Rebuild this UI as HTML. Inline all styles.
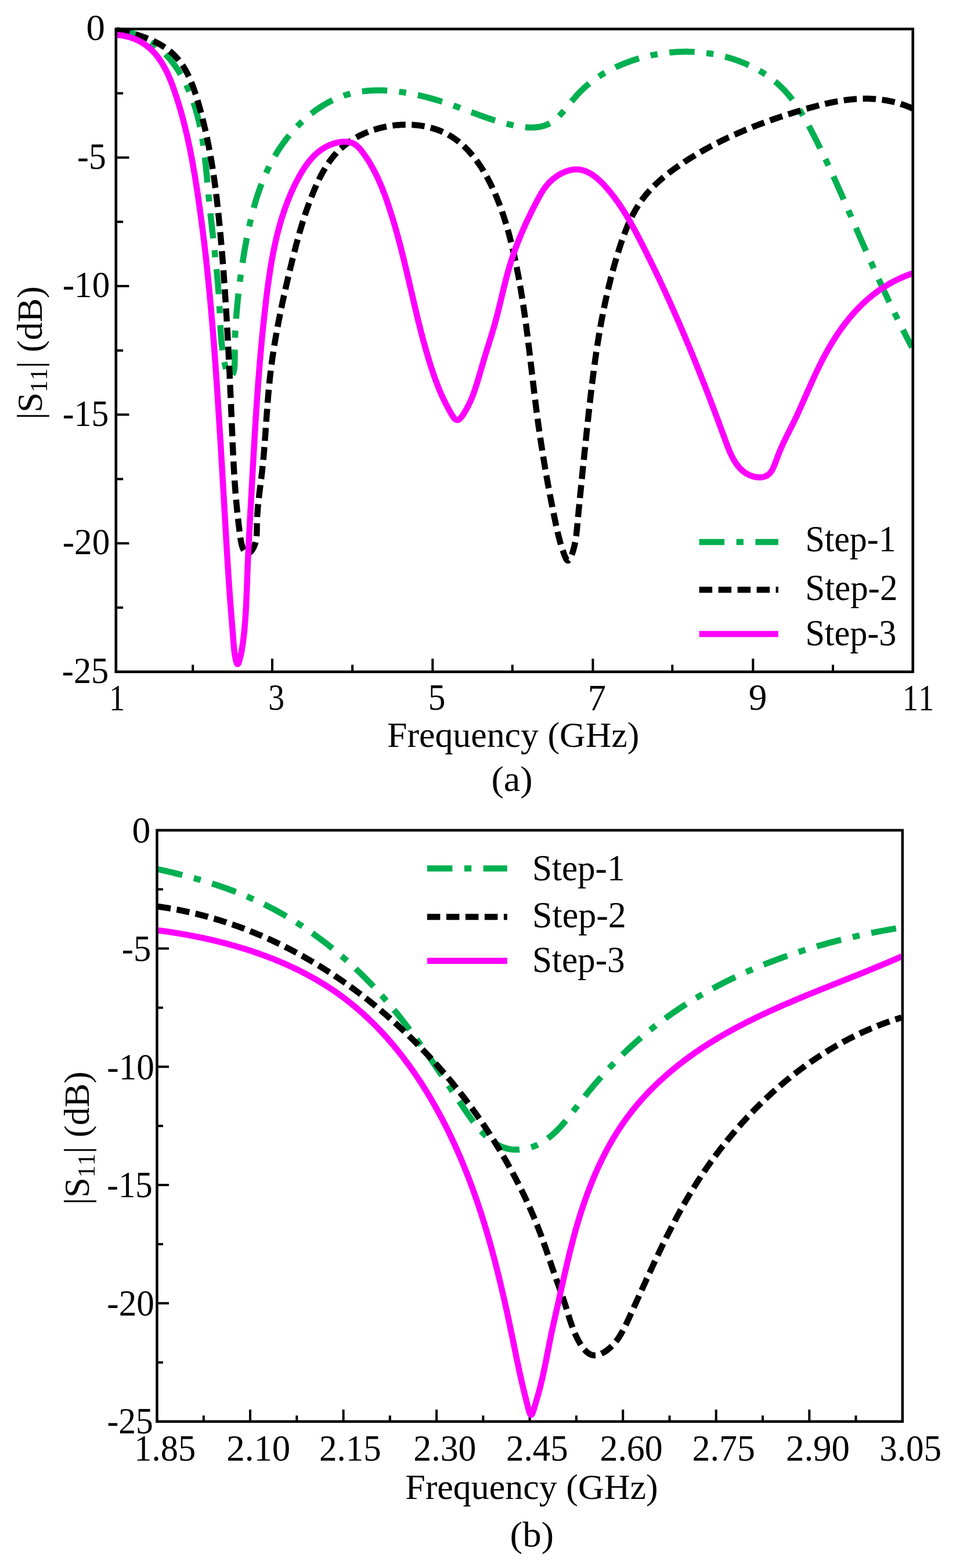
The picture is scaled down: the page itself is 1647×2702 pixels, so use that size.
<!DOCTYPE html><html><head><meta charset="utf-8"><style>html,body{margin:0;padding:0;background:#fff;}svg{display:block;}text{font-family:"Liberation Serif","Times New Roman",serif;font-kerning:none;fill:#000;}</style></head><body>
<svg width="1647" height="2702" viewBox="0 0 1647 2702">
<rect width="1647" height="2702" fill="#fff"/>
<path d="M332.2,1157.7V1145.4 M469.0,1157.7V1135.1 M607.1,1157.7V1145.4 M745.3,1157.7V1135.1 M882.7,1157.7V1145.4 M1021.4,1157.7V1135.1 M1158.3,1157.7V1145.4 M1297.3,1157.7V1135.1 M1435.0,1157.7V1145.4 M199.8,160.8H212.1 M199.8,271.5H222.4 M199.8,382.3H212.1 M199.8,493.1H222.4 M199.8,603.9H212.1 M199.8,714.6H222.4 M199.8,825.4H212.1 M199.8,936.2H222.4 M199.8,1046.9H212.1" stroke="#000" stroke-width="4" fill="none"/>
<g fill="none" stroke-width="10.5" stroke-linejoin="round">
<path d="M200.2,52.1L202.4,52.3 204.6,52.5 206.7,52.7 208.9,53.0 211.0,53.3 213.1,53.7 215.2,54.1 217.3,54.5 219.3,55.0 221.3,55.5 223.3,56.0 225.3,56.5 227.3,57.1 229.3,57.7 231.2,58.4 233.1,59.0 235.1,59.7 236.9,60.5 238.8,61.2 240.7,62.0 242.5,62.8 244.3,63.7 246.1,64.5 247.9,65.4 249.7,66.4 251.4,67.3 253.1,68.3 254.9,69.3 256.5,70.3 258.2,71.4 259.9,72.4 261.5,73.5 263.2,74.6 264.8,75.8 266.4,76.9 267.9,78.1 269.5,79.3 271.0,80.6 272.6,81.8 274.1,83.1 275.6,84.4 277.0,85.7 278.5,87.0 279.9,88.4 281.4,89.8 282.8,91.1 284.2,92.6 285.5,94.0 286.9,95.4 288.2,96.9 289.6,98.4 290.9,99.9 292.2,101.4 293.5,102.9 294.7,104.4 296.0,106.0 297.2,107.6 298.4,109.1 299.6,110.7 300.8,112.3 302.0,114.0 303.1,115.6 304.2,117.3 305.4,118.9 306.5,120.6 307.6,122.3 308.6,124.0 309.7,125.7 310.7,127.4 311.8,129.1 312.8,130.8 313.8,132.6 314.7,134.3 315.7,136.1 316.7,137.9 317.6,139.6 318.5,141.4 319.4,143.2 320.3,145.0 321.2,146.8 322.0,148.6 322.9,150.4 323.7,152.3 324.5,154.1 325.3,155.9 326.1,157.7 326.9,159.6 327.6,161.4 328.4,163.3 329.1,165.1 329.8,166.9 330.5,168.8 331.2,170.7 331.9,172.5 332.6,174.4 333.2,176.3 333.9,178.1 334.5,180.0 335.1,181.9 335.7,183.8 336.3,185.7 336.9,187.6 337.4,189.5 338.0,191.4 338.5,193.3 339.0,195.2 339.6,197.1 340.1,199.0 340.6,200.9 341.1,202.8 341.5,204.7 342.0,206.7 342.5,208.6 342.9,210.5 343.4,212.4 343.8,214.4 344.2,216.3 344.6,218.3 345.0,220.2 345.4,222.1 345.8,224.1 346.2,226.0 346.5,228.0 346.9,229.9 347.3,231.9 347.6,233.9 347.9,235.8 348.3,237.8 348.6,239.8 348.9,241.7 349.2,243.7 349.5,245.7 349.8,247.6 350.1,249.6 350.4,251.6 350.7,253.6 351.0,255.6 351.2,257.5 351.5,259.5 351.7,261.5 352.0,263.5 352.3,265.5 352.5,267.5 352.7,269.5 353.0,271.5 353.2,273.5 353.4,275.5 353.6,277.5 353.9,279.5 354.1,281.5 354.3,283.5 354.5,285.5 354.7,287.5 354.9,289.5 355.1,291.5 355.3,293.5 355.5,295.5 355.7,297.5 355.9,299.5 356.1,301.5 356.3,303.5 356.5,305.5 356.7,307.5 356.8,309.5 357.0,311.5 357.2,313.6 357.4,315.6 357.6,317.6 357.8,319.6 357.9,321.6 358.1,323.6 358.3,325.6 358.5,327.6 358.7,329.7 358.9,331.7 359.1,333.7 359.2,335.7 359.4,337.7 359.6,339.7 359.8,341.7 360.0,343.7 360.2,345.7 360.4,347.7 360.6,349.8 360.8,351.8 361.0,353.8 361.2,355.8 361.4,357.8 361.6,359.8 361.9,361.8 362.1,363.8 362.3,365.8 362.5,367.8 362.7,369.8 362.9,371.8 363.1,373.8 363.4,375.8 363.6,377.8 363.8,379.8 364.0,381.8 364.2,383.8 364.5,385.8 364.7,387.8 364.9,389.8 365.1,391.8 365.4,393.8 365.6,395.8 365.8,397.8 366.0,399.8 366.3,401.8 366.5,403.8 366.7,405.8 366.9,407.8 367.2,409.8 367.4,411.8 367.6,413.8 367.8,415.8 368.1,417.8 368.3,419.8 368.5,421.7 368.7,423.7 369.0,425.7 369.2,427.7 369.4,429.7 369.6,431.7 369.9,433.7 370.1,435.7 370.3,437.6 370.5,439.6 370.7,441.6 370.9,443.6 371.1,445.6 371.4,447.5 371.6,449.5 371.8,451.5 372.0,453.5 372.2,455.5 372.4,457.4 372.6,459.4 372.8,461.4 373.0,463.4 373.2,465.3 373.4,467.3 373.6,469.3 373.8,471.3 374.0,473.2 374.1,475.2 374.3,477.2 374.5,479.1 374.7,481.1 374.9,483.1 375.0,485.0 375.2,487.0 375.4,488.9 375.6,490.9 375.7,492.9 375.9,494.8 376.0,496.8 376.2,498.7 376.3,500.7 376.5,502.7 376.6,504.6 376.8,506.6 376.9,508.5 377.0,510.5 377.2,512.4 377.3,514.4 377.4,516.3 377.6,518.3 377.7,520.2 377.8,522.2 377.9,524.1 378.0,526.1 378.1,528.0 378.2,530.0 378.3,531.9 378.4,533.8 378.5,535.8 378.6,537.7 378.6,539.7 378.7,541.6 378.8,543.5 378.9,545.5 379.0,547.4 379.1,549.4 379.1,551.3 379.2,553.3 379.3,555.3 379.4,557.2 379.5,559.2 379.6,561.2 379.7,563.1 379.8,565.1 379.9,567.1 380.0,569.1 380.1,571.1 380.3,573.1 380.4,575.1 380.6,577.2 380.7,579.2 380.9,581.2 381.0,583.3 381.2,585.3 381.4,587.4 381.6,589.5 381.8,591.6 382.1,593.7 382.3,595.8 382.6,597.9 382.8,600.1 383.1,602.2 383.4,604.4 383.7,606.5 384.0,608.7 384.4,610.9 384.7,613.1 385.1,615.4 385.5,617.6 385.9,619.9 386.3,622.1 386.8,624.4 387.2,626.7 387.7,629.1 388.2,631.4 388.8,633.7 389.3,635.9 389.9,638.0 390.5,640.1 391.2,641.9 391.9,643.6 392.6,645.1 393.4,646.4 394.2,647.3 395.0,648.0 395.9,648.4 396.9,648.3 397.9,648.0 398.9,647.3 399.8,646.4 400.6,645.2 401.4,643.9 402.0,642.3 402.5,640.6 403.0,638.8 403.4,636.8 403.7,634.7 403.9,632.6 404.1,630.3 404.2,627.9 404.3,625.5 404.4,623.1 404.4,620.6 404.4,618.1 404.4,615.6 404.4,613.1 404.4,610.7 404.4,608.3 404.4,605.9 404.4,603.6 404.5,601.3 404.5,599.0 404.5,596.7 404.6,594.5 404.6,592.4 404.6,590.2 404.7,588.1 404.8,586.0 404.8,583.9 404.9,581.8 405.0,579.8 405.1,577.8 405.2,575.8 405.3,573.8 405.3,571.8 405.5,569.8 405.6,567.9 405.7,566.0 405.8,564.0 405.9,562.1 406.0,560.2 406.2,558.3 406.3,556.4 406.4,554.4 406.6,552.5 406.7,550.6 406.8,548.7 407.0,546.8 407.1,544.9 407.3,543.0 407.4,541.0 407.6,539.1 407.8,537.2 407.9,535.3 408.1,533.3 408.3,531.4 408.5,529.4 408.6,527.5 408.8,525.5 409.0,523.6 409.2,521.6 409.4,519.7 409.6,517.7 409.8,515.8 410.0,513.8 410.2,511.9 410.4,509.9 410.6,507.9 410.8,506.0 411.1,504.0 411.3,502.0 411.5,500.0 411.7,498.1 412.0,496.1 412.2,494.1 412.4,492.1 412.7,490.1 412.9,488.2 413.2,486.2 413.4,484.2 413.7,482.2 413.9,480.2 414.2,478.2 414.5,476.2 414.7,474.3 415.0,472.3 415.3,470.3 415.6,468.3 415.9,466.3 416.1,464.3 416.4,462.3 416.7,460.3 417.0,458.3 417.3,456.3 417.6,454.3 417.9,452.3 418.2,450.3 418.6,448.3 418.9,446.3 419.2,444.4 419.5,442.4 419.8,440.4 420.2,438.4 420.5,436.4 420.8,434.4 421.2,432.4 421.5,430.4 421.9,428.4 422.2,426.4 422.6,424.4 422.9,422.4 423.3,420.5 423.7,418.5 424.0,416.5 424.4,414.5 424.8,412.5 425.2,410.5 425.6,408.6 425.9,406.6 426.3,404.6 426.7,402.6 427.1,400.7 427.5,398.7 427.9,396.7 428.4,394.8 428.8,392.8 429.2,390.8 429.6,388.9 430.1,386.9 430.5,385.0 430.9,383.0 431.4,381.0 431.9,379.1 432.3,377.1 432.8,375.2 433.3,373.3 433.7,371.3 434.2,369.4 434.7,367.4 435.2,365.5 435.7,363.6 436.2,361.6 436.8,359.7 437.3,357.8 437.8,355.9 438.3,353.9 438.9,352.0 439.4,350.1 440.0,348.2 440.6,346.3 441.2,344.4 441.7,342.5 442.3,340.6 442.9,338.7 443.5,336.8 444.2,334.9 444.8,333.1 445.4,331.2 446.1,329.3 446.7,327.4 447.4,325.6 448.1,323.7 448.7,321.8 449.4,320.0 450.1,318.1 450.8,316.3 451.5,314.4 452.3,312.6 453.0,310.8 453.8,308.9 454.5,307.1 455.3,305.3 456.1,303.5 456.9,301.6 457.7,299.8 458.5,298.0 459.3,296.2 460.1,294.4 461.0,292.6 461.8,290.8 462.7,289.1 463.6,287.3 464.4,285.5 465.3,283.7 466.3,282.0 467.2,280.2 468.1,278.5 469.1,276.7 470.0,275.0 471.0,273.2 472.0,271.5 473.0,269.8 474.0,268.1 475.0,266.4 476.0,264.6 477.1,262.9 478.2,261.2 479.2,259.5 480.3,257.9 481.4,256.2 482.5,254.5 483.7,252.8 484.8,251.2 486.0,249.5 487.1,247.9 488.3,246.2 489.5,244.6 490.7,243.0 492.0,241.3 493.2,239.7 494.4,238.1 495.7,236.5 497.0,234.9 498.3,233.4 499.6,231.8 500.9,230.2 502.2,228.7 503.5,227.1 504.9,225.6 506.2,224.1 507.6,222.6 509.0,221.1 510.4,219.6 511.8,218.1 513.2,216.6 514.6,215.2 516.1,213.8 517.5,212.3 519.0,210.9 520.5,209.5 522.0,208.1 523.5,206.7 525.0,205.4 526.5,204.0 528.0,202.7 529.5,201.4 531.1,200.1 532.6,198.8 534.2,197.5 535.8,196.2 537.4,195.0 539.0,193.7 540.6,192.5 542.2,191.3 543.8,190.1 545.5,189.0 547.1,187.8 548.8,186.7 550.4,185.6 552.1,184.5 553.8,183.4 555.5,182.3 557.2,181.3 558.9,180.3 560.6,179.3 562.3,178.3 564.0,177.3 565.8,176.4 567.5,175.4 569.3,174.5 571.1,173.6 572.8,172.8 574.6,171.9 576.4,171.1 578.2,170.3 580.0,169.5 581.8,168.7 583.6,168.0 585.4,167.3 587.3,166.6 589.1,165.9 591.0,165.3 592.8,164.6 594.7,164.0 596.5,163.5 598.4,162.9 600.3,162.4 602.2,161.9 604.1,161.4 606.0,160.9 607.9,160.4 609.8,160.0 611.7,159.6 613.6,159.2 615.5,158.9 617.4,158.5 619.4,158.2 621.3,157.9 623.3,157.6 625.2,157.4 627.2,157.1 629.1,156.9 631.1,156.7 633.0,156.5 635.0,156.3 637.0,156.2 638.9,156.1 640.9,156.0 642.9,155.9 644.9,155.8 646.9,155.7 648.9,155.7 650.9,155.7 652.8,155.7 654.8,155.7 656.8,155.7 658.8,155.8 660.8,155.8 662.9,155.9 664.9,156.0 666.9,156.1 668.9,156.2 670.9,156.4 672.9,156.5 674.9,156.7 676.9,156.9 678.9,157.1 681.0,157.3 683.0,157.5 685.0,157.7 687.0,158.0 689.0,158.3 691.0,158.5 693.1,158.8 695.1,159.1 697.1,159.4 699.1,159.8 701.1,160.1 703.1,160.5 705.1,160.8 707.1,161.2 709.2,161.6 711.2,162.0 713.2,162.4 715.2,162.8 717.2,163.3 719.2,163.7 721.2,164.1 723.2,164.6 725.2,165.1 727.2,165.5 729.1,166.0 731.1,166.5 733.1,167.0 735.1,167.5 737.1,168.1 739.0,168.6 741.0,169.1 743.0,169.7 744.9,170.2 746.9,170.8 748.9,171.4 750.8,171.9 752.8,172.5 754.7,173.1 756.6,173.7 758.6,174.3 760.5,174.9 762.4,175.5 764.3,176.1 766.2,176.8 768.1,177.4 770.0,178.0 771.9,178.6 773.8,179.3 775.7,179.9 777.6,180.6 779.5,181.2 781.3,181.9 783.2,182.5 785.0,183.2 786.9,183.9 788.7,184.5 790.6,185.2 792.4,185.9 794.2,186.6 796.0,187.2 797.9,187.9 799.7,188.6 801.5,189.3 803.3,189.9 805.1,190.6 806.9,191.3 808.7,192.0 810.5,192.7 812.3,193.3 814.1,194.0 815.9,194.7 817.8,195.4 819.6,196.0 821.4,196.7 823.2,197.4 825.0,198.1 826.8,198.7 828.7,199.4 830.5,200.0 832.3,200.7 834.2,201.3 836.0,202.0 837.8,202.6 839.7,203.3 841.6,203.9 843.4,204.5 845.3,205.2 847.2,205.8 849.1,206.4 851.0,207.0 852.9,207.6 854.8,208.2 856.7,208.8 858.7,209.3 860.6,209.9 862.6,210.5 864.5,211.0 866.5,211.6 868.5,212.1 870.5,212.7 872.6,213.2 874.6,213.7 876.6,214.2 878.7,214.7 880.8,215.2 882.8,215.6 884.9,216.1 887.0,216.5 889.1,216.9 891.2,217.3 893.3,217.7 895.4,218.0 897.5,218.3 899.6,218.6 901.7,218.9 903.8,219.1 905.9,219.3 908.0,219.5 910.1,219.6 912.1,219.7 914.2,219.7 916.2,219.7 918.2,219.7 920.2,219.6 922.2,219.5 924.2,219.3 926.1,219.1 928.1,218.8 930.0,218.5 931.9,218.1 933.7,217.7 935.6,217.2 937.4,216.7 939.1,216.1 940.9,215.4 942.6,214.7 944.3,213.9 945.9,213.0 947.6,212.1 949.2,211.2 950.7,210.2 952.3,209.1 953.8,208.0 955.3,206.9 956.8,205.7 958.3,204.4 959.7,203.1 961.1,201.8 962.5,200.5 963.9,199.1 965.3,197.7 966.7,196.3 968.0,194.8 969.4,193.3 970.7,191.8 972.0,190.3 973.4,188.7 974.7,187.1 976.0,185.6 977.3,184.0 978.6,182.4 979.9,180.8 981.2,179.2 982.5,177.6 983.8,176.0 985.1,174.4 986.5,172.8 987.8,171.2 989.1,169.6 990.5,168.0 991.8,166.4 993.2,164.9 994.6,163.3 995.9,161.8 997.3,160.3 998.8,158.9 1000.2,157.4 1001.6,156.0 1003.1,154.6 1004.5,153.2 1006.0,151.8 1007.5,150.4 1009.0,149.1 1010.5,147.8 1012.0,146.5 1013.6,145.2 1015.1,143.9 1016.7,142.6 1018.3,141.4 1019.8,140.2 1021.4,139.0 1023.0,137.8 1024.7,136.7 1026.3,135.5 1027.9,134.4 1029.6,133.3 1031.2,132.2 1032.9,131.1 1034.6,130.0 1036.2,129.0 1037.9,127.9 1039.6,126.9 1041.3,125.9 1043.1,124.9 1044.8,123.9 1046.5,123.0 1048.3,122.0 1050.0,121.1 1051.8,120.2 1053.5,119.3 1055.3,118.4 1057.1,117.5 1058.9,116.7 1060.7,115.8 1062.5,115.0 1064.3,114.2 1066.1,113.4 1067.9,112.6 1069.8,111.8 1071.6,111.0 1073.4,110.3 1075.3,109.5 1077.1,108.8 1079.0,108.1 1080.8,107.4 1082.7,106.7 1084.6,106.0 1086.5,105.4 1088.3,104.7 1090.2,104.1 1092.1,103.5 1094.0,102.8 1095.9,102.2 1097.8,101.7 1099.7,101.1 1101.7,100.5 1103.6,100.0 1105.5,99.4 1107.4,98.9 1109.4,98.4 1111.3,97.9 1113.2,97.4 1115.2,97.0 1117.1,96.5 1119.1,96.1 1121.0,95.6 1123.0,95.2 1124.9,94.8 1126.9,94.4 1128.9,94.1 1130.8,93.7 1132.8,93.3 1134.8,93.0 1136.7,92.7 1138.7,92.4 1140.7,92.1 1142.7,91.8 1144.7,91.5 1146.7,91.3 1148.6,91.1 1150.6,90.8 1152.6,90.6 1154.6,90.4 1156.6,90.2 1158.6,90.1 1160.6,89.9 1162.6,89.8 1164.6,89.6 1166.6,89.5 1168.6,89.4 1170.6,89.3 1172.6,89.3 1174.6,89.2 1176.6,89.2 1178.6,89.1 1180.6,89.1 1182.6,89.1 1184.6,89.1 1186.6,89.2 1188.6,89.2 1190.6,89.3 1192.6,89.3 1194.6,89.4 1196.6,89.5 1198.6,89.7 1200.6,89.8 1202.6,89.9 1204.6,90.1 1206.6,90.3 1208.6,90.5 1210.6,90.7 1212.6,90.9 1214.6,91.1 1216.6,91.4 1218.6,91.6 1220.5,91.9 1222.5,92.2 1224.5,92.5 1226.5,92.8 1228.5,93.2 1230.4,93.5 1232.4,93.9 1234.4,94.3 1236.3,94.7 1238.3,95.1 1240.3,95.5 1242.2,96.0 1244.2,96.5 1246.1,96.9 1248.1,97.4 1250.0,97.9 1252.0,98.5 1253.9,99.0 1255.8,99.6 1257.8,100.1 1259.7,100.7 1261.6,101.3 1263.6,101.9 1265.5,102.6 1267.4,103.2 1269.3,103.9 1271.2,104.6 1273.1,105.3 1275.0,106.0 1276.9,106.7 1278.7,107.5 1280.6,108.2 1282.5,109.0 1284.3,109.8 1286.2,110.6 1288.0,111.4 1289.9,112.3 1291.7,113.1 1293.5,114.0 1295.3,114.9 1297.1,115.8 1298.9,116.7 1300.7,117.6 1302.5,118.6 1304.3,119.5 1306.0,120.5 1307.8,121.5 1309.5,122.5 1311.2,123.5 1313.0,124.6 1314.7,125.6 1316.3,126.7 1318.0,127.8 1319.7,128.9 1321.4,130.0 1323.0,131.2 1324.6,132.3 1326.3,133.5 1327.9,134.7 1329.5,135.9 1331.0,137.1 1332.6,138.3 1334.1,139.6 1335.7,140.8 1337.2,142.1 1338.7,143.4 1340.2,144.7 1341.7,146.0 1343.1,147.4 1344.6,148.7 1346.0,150.1 1347.4,151.5 1348.8,152.9 1350.2,154.3 1351.5,155.7 1352.9,157.2 1354.2,158.6 1355.5,160.1 1356.8,161.6 1358.1,163.1 1359.4,164.6 1360.6,166.1 1361.9,167.7 1363.1,169.2 1364.3,170.8 1365.5,172.4 1366.7,173.9 1367.9,175.5 1369.0,177.1 1370.2,178.8 1371.3,180.4 1372.4,182.0 1373.6,183.7 1374.7,185.3 1375.8,187.0 1376.9,188.7 1377.9,190.3 1379.0,192.0 1380.0,193.7 1381.1,195.4 1382.1,197.1 1383.2,198.9 1384.2,200.6 1385.2,202.3 1386.2,204.0 1387.2,205.8 1388.2,207.5 1389.2,209.3 1390.2,211.0 1391.1,212.8 1392.1,214.6 1393.1,216.3 1394.0,218.1 1395.0,219.9 1395.9,221.6 1396.8,223.4 1397.8,225.2 1398.7,227.0 1399.6,228.8 1400.6,230.5 1401.5,232.3 1402.4,234.1 1403.3,235.9 1404.2,237.7 1405.1,239.5 1406.0,241.3 1406.9,243.1 1407.8,244.9 1408.7,246.7 1409.6,248.5 1410.5,250.3 1411.4,252.0 1412.3,253.8 1413.2,255.6 1414.0,257.4 1414.9,259.2 1415.8,261.0 1416.7,262.8 1417.5,264.7 1418.4,266.5 1419.3,268.3 1420.1,270.1 1421.0,271.9 1421.8,273.7 1422.7,275.5 1423.6,277.3 1424.4,279.1 1425.3,280.9 1426.1,282.7 1426.9,284.5 1427.8,286.4 1428.6,288.2 1429.5,290.0 1430.3,291.8 1431.1,293.6 1432.0,295.4 1432.8,297.2 1433.6,299.1 1434.4,300.9 1435.3,302.7 1436.1,304.5 1436.9,306.3 1437.7,308.2 1438.5,310.0 1439.4,311.8 1440.2,313.6 1441.0,315.4 1441.8,317.3 1442.6,319.1 1443.4,320.9 1444.2,322.7 1445.0,324.6 1445.9,326.4 1446.7,328.2 1447.5,330.0 1448.3,331.9 1449.1,333.7 1449.9,335.5 1450.7,337.3 1451.5,339.2 1452.3,341.0 1453.1,342.8 1453.9,344.7 1454.7,346.5 1455.5,348.3 1456.2,350.2 1457.0,352.0 1457.8,353.8 1458.6,355.6 1459.4,357.5 1460.2,359.3 1461.0,361.1 1461.8,363.0 1462.6,364.8 1463.4,366.6 1464.2,368.5 1465.0,370.3 1465.8,372.1 1466.5,374.0 1467.3,375.8 1468.1,377.6 1468.9,379.5 1469.7,381.3 1470.5,383.1 1471.3,385.0 1472.1,386.8 1472.9,388.6 1473.7,390.5 1474.5,392.3 1475.3,394.1 1476.0,396.0 1476.8,397.8 1477.6,399.6 1478.4,401.5 1479.2,403.3 1480.0,405.1 1480.8,407.0 1481.6,408.8 1482.4,410.6 1483.2,412.5 1484.0,414.3 1484.8,416.1 1485.6,418.0 1486.4,419.8 1487.2,421.6 1488.0,423.4 1488.8,425.3 1489.6,427.1 1490.4,428.9 1491.2,430.8 1492.0,432.6 1492.8,434.4 1493.6,436.3 1494.5,438.1 1495.3,439.9 1496.1,441.8 1496.9,443.6 1497.7,445.4 1498.5,447.2 1499.3,449.1 1500.1,450.9 1501.0,452.7 1501.8,454.5 1502.6,456.4 1503.4,458.2 1504.2,460.0 1505.1,461.9 1505.9,463.7 1506.7,465.5 1507.5,467.3 1508.3,469.1 1509.2,471.0 1510.0,472.8 1510.8,474.6 1511.7,476.4 1512.5,478.3 1513.3,480.1 1514.1,481.9 1515.0,483.7 1515.8,485.5 1516.6,487.4 1517.5,489.2 1518.3,491.0 1519.2,492.8 1520.0,494.6 1520.8,496.4 1521.7,498.2 1522.5,500.1 1523.4,501.9 1524.2,503.7 1525.1,505.5 1525.9,507.3 1526.8,509.1 1527.6,510.9 1528.5,512.7 1529.3,514.5 1530.2,516.4 1531.0,518.2 1531.9,520.0 1532.8,521.8 1533.6,523.6 1534.5,525.4 1535.3,527.2 1536.2,529.0 1537.1,530.8 1537.9,532.6 1538.8,534.4 1539.7,536.2 1540.6,538.0 1541.4,539.8 1542.3,541.6 1543.2,543.4 1544.1,545.1 1544.9,546.9 1545.8,548.7 1546.7,550.5 1547.6,552.3 1548.5,554.1 1549.4,555.9 1550.2,557.7 1551.1,559.5 1552.0,561.2 1552.9,563.0 1553.8,564.8 1554.7,566.6 1555.6,568.4 1556.5,570.1 1557.4,571.9 1558.3,573.7 1559.2,575.5 1560.1,577.2 1561.0,579.0 1562.0,580.8 1562.9,582.6 1563.8,584.3 1564.7,586.1 1565.6,587.9 1566.5,589.6 1567.5,591.4 1568.4,593.1 1569.3,594.9 1570.2,596.7 1571.2,598.4" stroke="#00b050" stroke-dasharray="43.5 20.5 12.3 20.5"/>
<path d="M201.1,52.3L202.9,52.6 204.8,52.9 206.6,53.2 208.5,53.5 210.4,53.9 212.3,54.3 214.2,54.6 216.1,55.0 218.1,55.5 220.0,55.9 221.9,56.3 223.9,56.8 225.8,57.3 227.8,57.8 229.7,58.3 231.7,58.8 233.6,59.4 235.6,60.0 237.5,60.5 239.5,61.1 241.4,61.8 243.4,62.4 245.3,63.1 247.2,63.8 249.2,64.4 251.1,65.2 253.0,65.9 254.9,66.7 256.8,67.4 258.7,68.2 260.6,69.0 262.5,69.9 264.3,70.7 266.2,71.6 268.0,72.5 269.8,73.4 271.6,74.4 273.4,75.4 275.2,76.3 276.9,77.3 278.7,78.4 280.4,79.4 282.1,80.5 283.7,81.6 285.4,82.7 287.0,83.9 288.6,85.1 290.2,86.3 291.8,87.5 293.3,88.7 294.8,90.0 296.3,91.3 297.7,92.6 299.1,93.9 300.5,95.3 301.9,96.7 303.2,98.1 304.5,99.6 305.8,101.0 307.1,102.5 308.3,104.0 309.5,105.5 310.7,107.1 311.8,108.7 312.9,110.2 314.0,111.9 315.1,113.5 316.2,115.1 317.2,116.8 318.2,118.5 319.2,120.2 320.2,121.9 321.1,123.6 322.1,125.4 323.0,127.1 323.9,128.9 324.7,130.7 325.6,132.5 326.4,134.3 327.2,136.1 328.0,138.0 328.8,139.8 329.6,141.7 330.3,143.6 331.1,145.4 331.8,147.3 332.5,149.2 333.2,151.1 333.9,153.0 334.6,155.0 335.2,156.9 335.9,158.8 336.5,160.8 337.2,162.7 337.8,164.6 338.4,166.6 339.0,168.5 339.6,170.5 340.2,172.4 340.8,174.4 341.3,176.4 341.9,178.3 342.5,180.3 343.0,182.2 343.6,184.2 344.1,186.1 344.7,188.1 345.2,190.1 345.7,192.0 346.3,194.0 346.8,195.9 347.3,197.9 347.8,199.8 348.3,201.8 348.8,203.8 349.3,205.7 349.8,207.7 350.3,209.6 350.7,211.6 351.2,213.5 351.7,215.5 352.1,217.4 352.6,219.4 353.1,221.4 353.5,223.3 353.9,225.3 354.4,227.2 354.8,229.2 355.2,231.1 355.7,233.1 356.1,235.1 356.5,237.0 356.9,239.0 357.3,240.9 357.7,242.9 358.1,244.8 358.5,246.8 358.9,248.8 359.3,250.7 359.7,252.7 360.1,254.6 360.4,256.6 360.8,258.5 361.2,260.5 361.5,262.5 361.9,264.4 362.2,266.4 362.6,268.3 362.9,270.3 363.3,272.2 363.6,274.2 364.0,276.2 364.3,278.1 364.6,280.1 364.9,282.0 365.3,284.0 365.6,286.0 365.9,287.9 366.2,289.9 366.5,291.9 366.8,293.8 367.1,295.8 367.4,297.7 367.7,299.7 368.0,301.7 368.3,303.6 368.6,305.6 368.9,307.6 369.1,309.5 369.4,311.5 369.7,313.4 370.0,315.4 370.2,317.4 370.5,319.3 370.7,321.3 371.0,323.3 371.3,325.2 371.5,327.2 371.8,329.2 372.0,331.2 372.3,333.1 372.5,335.1 372.7,337.1 373.0,339.0 373.2,341.0 373.5,343.0 373.7,344.9 373.9,346.9 374.1,348.9 374.4,350.9 374.6,352.8 374.8,354.8 375.0,356.8 375.3,358.8 375.5,360.7 375.7,362.7 375.9,364.7 376.1,366.7 376.3,368.7 376.5,370.6 376.7,372.6 376.9,374.6 377.1,376.6 377.3,378.6 377.5,380.5 377.7,382.5 377.9,384.5 378.1,386.5 378.3,388.5 378.5,390.5 378.7,392.5 378.9,394.4 379.1,396.4 379.2,398.4 379.4,400.4 379.6,402.4 379.8,404.4 380.0,406.4 380.2,408.4 380.3,410.4 380.5,412.4 380.7,414.4 380.9,416.3 381.0,418.3 381.2,420.3 381.4,422.3 381.6,424.3 381.7,426.3 381.9,428.3 382.1,430.3 382.2,432.3 382.4,434.3 382.6,436.3 382.7,438.3 382.9,440.3 383.1,442.3 383.2,444.3 383.4,446.3 383.6,448.4 383.7,450.4 383.9,452.4 384.0,454.4 384.2,456.4 384.3,458.4 384.5,460.4 384.6,462.4 384.8,464.4 385.0,466.4 385.1,468.4 385.3,470.4 385.4,472.4 385.6,474.4 385.7,476.5 385.8,478.5 386.0,480.5 386.1,482.5 386.3,484.5 386.4,486.5 386.6,488.5 386.7,490.5 386.8,492.5 387.0,494.5 387.1,496.6 387.3,498.6 387.4,500.6 387.5,502.6 387.7,504.6 387.8,506.6 387.9,508.6 388.1,510.6 388.2,512.7 388.3,514.7 388.5,516.7 388.6,518.7 388.7,520.7 388.9,522.7 389.0,524.7 389.1,526.8 389.2,528.8 389.4,530.8 389.5,532.8 389.6,534.8 389.7,536.8 389.9,538.8 390.0,540.8 390.1,542.9 390.2,544.9 390.4,546.9 390.5,548.9 390.6,550.9 390.7,552.9 390.8,554.9 390.9,556.9 391.1,559.0 391.2,561.0 391.3,563.0 391.4,565.0 391.5,567.0 391.6,569.0 391.8,571.0 391.9,573.0 392.0,575.0 392.1,577.0 392.2,579.1 392.3,581.1 392.4,583.1 392.5,585.1 392.6,587.1 392.7,589.1 392.8,591.1 393.0,593.1 393.1,595.1 393.2,597.1 393.3,599.1 393.4,601.1 393.5,603.1 393.6,605.1 393.7,607.1 393.8,609.1 393.9,611.2 394.0,613.2 394.1,615.2 394.2,617.2 394.3,619.2 394.4,621.2 394.5,623.2 394.6,625.2 394.7,627.2 394.8,629.2 394.9,631.2 395.0,633.1 395.1,635.1 395.2,637.1 395.3,639.1 395.4,641.1 395.5,643.1 395.6,645.1 395.7,647.1 395.7,649.1 395.8,651.1 395.9,653.1 396.0,655.1 396.1,657.1 396.2,659.0 396.3,661.0 396.4,663.0 396.5,665.0 396.6,667.0 396.7,669.0 396.8,670.9 396.8,672.9 396.9,674.9 397.0,676.9 397.1,678.9 397.2,680.8 397.3,682.8 397.4,684.8 397.5,686.8 397.5,688.7 397.6,690.7 397.7,692.7 397.8,694.7 397.9,696.6 398.0,698.6 398.1,700.6 398.2,702.5 398.2,704.5 398.3,706.5 398.4,708.4 398.5,710.4 398.6,712.4 398.7,714.3 398.7,716.3 398.8,718.2 398.9,720.2 399.0,722.2 399.1,724.1 399.2,726.1 399.3,728.0 399.3,730.0 399.4,731.9 399.5,733.9 399.6,735.8 399.7,737.8 399.7,739.7 399.8,741.7 399.9,743.6 400.0,745.5 400.1,747.5 400.2,749.4 400.2,751.4 400.3,753.3 400.4,755.2 400.5,757.2 400.6,759.1 400.7,761.0 400.7,763.0 400.8,764.9 400.9,766.8 401.0,768.8 401.1,770.7 401.2,772.6 401.3,774.6 401.3,776.5 401.4,778.4 401.5,780.4 401.6,782.3 401.7,784.3 401.8,786.2 401.9,788.2 402.0,790.1 402.1,792.0 402.2,794.0 402.3,795.9 402.4,797.9 402.5,799.9 402.6,801.8 402.7,803.8 402.8,805.7 402.9,807.7 403.0,809.7 403.2,811.7 403.3,813.6 403.4,815.6 403.5,817.6 403.6,819.6 403.8,821.6 403.9,823.6 404.0,825.6 404.2,827.6 404.3,829.6 404.4,831.6 404.6,833.6 404.7,835.6 404.9,837.7 405.0,839.7 405.2,841.7 405.3,843.8 405.5,845.8 405.6,847.9 405.8,849.9 406.0,852.0 406.2,854.1 406.3,856.2 406.5,858.2 406.7,860.3 406.9,862.4 407.1,864.5 407.3,866.7 407.5,868.8 407.7,870.9 407.9,873.0 408.1,875.2 408.3,877.3 408.5,879.5 408.7,881.7 409.0,883.8 409.2,886.0 409.4,888.2 409.7,890.4 409.9,892.6 410.2,894.8 410.4,897.0 410.7,899.3 410.9,901.5 411.2,903.8 411.5,906.0 411.8,908.3 412.0,910.6 412.3,912.9 412.6,915.2 412.9,917.5 413.2,919.8 413.5,922.1 413.9,924.5 414.2,926.8 414.5,929.1 414.9,931.3 415.3,933.5 415.8,935.6 416.2,937.7 416.7,939.7 417.3,941.6 417.8,943.4 418.5,945.0 419.2,946.6 419.9,948.0 420.7,949.2 421.6,950.3 422.5,951.2 423.5,952.0 424.6,952.5 425.7,952.8 427.0,952.9 428.3,952.8 429.6,952.3 431.0,951.5 432.3,950.3 433.6,948.8 434.8,947.0 436.0,945.1 437.1,943.1 438.0,941.0 438.8,938.9 439.6,936.8 440.2,934.7 440.7,932.6 441.2,930.5 441.5,928.4 441.8,926.3 442.0,924.2 442.2,922.1 442.3,920.0 442.4,917.9 442.5,915.8 442.5,913.6 442.5,911.5 442.6,909.4 442.6,907.4 442.6,905.3 442.6,903.2 442.7,901.1 442.7,899.0 442.8,897.0 442.9,894.9 443.0,892.9 443.1,890.8 443.2,888.8 443.3,886.8 443.5,884.7 443.6,882.7 443.8,880.7 443.9,878.7 444.1,876.7 444.2,874.6 444.4,872.6 444.6,870.6 444.8,868.6 445.0,866.7 445.2,864.7 445.4,862.7 445.6,860.7 445.9,858.7 446.1,856.7 446.3,854.7 446.5,852.8 446.8,850.8 447.0,848.8 447.3,846.9 447.5,844.9 447.7,842.9 448.0,841.0 448.2,839.0 448.5,837.0 448.7,835.1 449.0,833.1 449.2,831.1 449.5,829.2 449.7,827.2 450.0,825.3 450.2,823.3 450.4,821.3 450.7,819.4 450.9,817.4 451.1,815.4 451.4,813.5 451.6,811.5 451.8,809.5 452.0,807.6 452.2,805.6 452.4,803.6 452.6,801.6 452.8,799.7 453.0,797.7 453.2,795.7 453.4,793.7 453.6,791.7 453.8,789.8 454.0,787.8 454.2,785.8 454.3,783.8 454.5,781.8 454.7,779.8 454.9,777.9 455.0,775.9 455.2,773.9 455.3,771.9 455.5,769.9 455.7,767.9 455.8,765.9 456.0,763.9 456.1,761.9 456.3,759.9 456.4,757.9 456.6,755.9 456.7,753.9 456.9,751.9 457.0,749.9 457.2,747.9 457.3,745.9 457.5,743.9 457.6,741.9 457.7,739.9 457.9,737.9 458.0,735.9 458.2,733.9 458.3,731.9 458.4,729.9 458.6,727.9 458.7,725.9 458.9,723.9 459.0,721.9 459.1,719.9 459.3,717.9 459.4,715.9 459.6,713.9 459.7,711.9 459.9,709.9 460.0,707.9 460.2,705.9 460.3,703.9 460.5,701.9 460.6,699.9 460.8,697.9 460.9,695.9 461.1,693.9 461.2,691.9 461.4,689.9 461.6,687.9 461.7,685.9 461.9,683.9 462.1,681.9 462.2,679.9 462.4,677.9 462.6,675.9 462.8,673.9 462.9,671.9 463.1,669.9 463.3,667.9 463.5,665.9 463.7,663.9 463.9,661.9 464.1,659.9 464.3,657.9 464.5,655.9 464.7,653.9 464.9,651.9 465.1,649.9 465.4,648.0 465.6,646.0 465.8,644.0 466.0,642.0 466.3,640.0 466.5,638.0 466.8,636.0 467.0,634.1 467.3,632.1 467.5,630.1 467.8,628.1 468.1,626.1 468.3,624.1 468.6,622.2 468.9,620.2 469.1,618.2 469.4,616.2 469.7,614.3 470.0,612.3 470.3,610.3 470.6,608.3 470.9,606.4 471.2,604.4 471.5,602.4 471.8,600.4 472.1,598.5 472.4,596.5 472.7,594.5 473.1,592.6 473.4,590.6 473.7,588.6 474.0,586.7 474.4,584.7 474.7,582.7 475.1,580.8 475.4,578.8 475.7,576.8 476.1,574.9 476.4,572.9 476.8,570.9 477.2,569.0 477.5,567.0 477.9,565.1 478.2,563.1 478.6,561.1 479.0,559.2 479.4,557.2 479.7,555.3 480.1,553.3 480.5,551.3 480.9,549.4 481.3,547.4 481.7,545.5 482.0,543.5 482.4,541.6 482.8,539.6 483.2,537.6 483.6,535.7 484.0,533.7 484.4,531.8 484.9,529.8 485.3,527.9 485.7,525.9 486.1,524.0 486.5,522.0 486.9,520.1 487.3,518.1 487.8,516.2 488.2,514.2 488.6,512.3 489.0,510.3 489.5,508.4 489.9,506.4 490.3,504.5 490.8,502.5 491.2,500.6 491.7,498.6 492.1,496.7 492.5,494.7 493.0,492.8 493.4,490.8 493.9,488.9 494.3,486.9 494.8,485.0 495.2,483.0 495.7,481.1 496.2,479.1 496.6,477.2 497.1,475.2 497.5,473.3 498.0,471.3 498.5,469.4 498.9,467.4 499.4,465.5 499.9,463.5 500.3,461.6 500.8,459.6 501.3,457.7 501.8,455.7 502.2,453.8 502.7,451.8 503.2,449.9 503.7,447.9 504.1,446.0 504.6,444.1 505.1,442.1 505.6,440.2 506.1,438.2 506.6,436.3 507.1,434.3 507.6,432.4 508.1,430.4 508.6,428.5 509.1,426.6 509.6,424.6 510.1,422.7 510.6,420.7 511.1,418.8 511.6,416.9 512.2,414.9 512.7,413.0 513.2,411.1 513.8,409.1 514.3,407.2 514.8,405.3 515.4,403.3 515.9,401.4 516.5,399.5 517.0,397.5 517.6,395.6 518.2,393.7 518.7,391.8 519.3,389.8 519.9,387.9 520.5,386.0 521.1,384.1 521.6,382.2 522.2,380.3 522.8,378.3 523.5,376.4 524.1,374.5 524.7,372.6 525.3,370.7 525.9,368.8 526.6,366.9 527.2,365.0 527.9,363.1 528.5,361.2 529.2,359.3 529.8,357.4 530.5,355.6 531.2,353.7 531.8,351.8 532.5,349.9 533.2,348.0 533.9,346.2 534.6,344.3 535.4,342.4 536.1,340.5 536.8,338.7 537.5,336.8 538.3,335.0 539.0,333.1 539.8,331.2 540.5,329.4 541.3,327.5 542.1,325.7 542.9,323.9 543.7,322.0 544.5,320.2 545.3,318.4 546.1,316.5 547.0,314.7 547.8,312.9 548.7,311.1 549.5,309.3 550.4,307.5 551.3,305.7 552.2,304.0 553.1,302.2 554.0,300.5 555.0,298.7 555.9,297.0 556.9,295.2 557.9,293.5 558.9,291.8 559.9,290.1 560.9,288.4 562.0,286.8 563.0,285.1 564.1,283.5 565.2,281.8 566.3,280.2 567.4,278.6 568.6,277.0 569.7,275.5 570.9,273.9 572.1,272.4 573.3,270.8 574.6,269.3 575.8,267.8 577.1,266.4 578.4,264.9 579.7,263.5 581.0,262.0 582.4,260.6 583.8,259.3 585.2,257.9 586.6,256.5 588.1,255.2 589.5,253.9 591.0,252.6 592.5,251.4 594.1,250.1 595.6,248.9 597.2,247.7 598.8,246.5 600.4,245.3 602.0,244.2 603.7,243.1 605.4,242.0 607.0,240.9 608.7,239.8 610.5,238.8 612.2,237.8 613.9,236.8 615.7,235.8 617.5,234.9 619.3,233.9 621.1,233.0 622.9,232.1 624.8,231.3 626.6,230.4 628.5,229.6 630.3,228.8 632.2,228.0 634.1,227.3 636.0,226.5 638.0,225.8 639.9,225.1 641.8,224.4 643.8,223.8 645.7,223.2 647.7,222.6 649.7,222.0 651.7,221.4 653.7,220.9 655.7,220.4 657.7,219.9 659.7,219.4 661.7,219.0 663.7,218.5 665.8,218.1 667.8,217.7 669.8,217.4 671.9,217.1 673.9,216.7 676.0,216.5 678.0,216.2 680.1,215.9 682.1,215.7 684.2,215.5 686.2,215.4 688.3,215.2 690.4,215.1 692.4,215.0 694.5,214.9 696.5,214.9 698.6,214.8 700.6,214.8 702.7,214.8 704.7,214.9 706.8,214.9 708.8,215.0 710.9,215.1 712.9,215.3 714.9,215.4 716.9,215.6 719.0,215.8 721.0,216.1 723.0,216.3 725.0,216.6 727.0,216.9 729.0,217.2 730.9,217.6 732.9,218.0 734.9,218.4 736.8,218.8 738.8,219.3 740.7,219.8 742.6,220.3 744.6,220.8 746.5,221.4 748.3,221.9 750.2,222.5 752.1,223.2 753.9,223.8 755.8,224.5 757.6,225.2 759.4,226.0 761.2,226.7 763.0,227.5 764.8,228.3 766.5,229.2 768.3,230.0 770.0,230.9 771.7,231.8 773.4,232.8 775.1,233.7 776.7,234.7 778.4,235.7 780.0,236.8 781.6,237.9 783.2,238.9 784.8,240.1 786.3,241.2 787.9,242.4 789.4,243.5 790.9,244.7 792.4,246.0 793.9,247.2 795.4,248.5 796.8,249.8 798.3,251.1 799.7,252.4 801.1,253.7 802.5,255.1 803.9,256.5 805.2,257.9 806.6,259.3 807.9,260.7 809.2,262.2 810.5,263.7 811.8,265.2 813.1,266.7 814.4,268.2 815.6,269.7 816.8,271.3 818.1,272.8 819.3,274.4 820.5,276.0 821.7,277.6 822.8,279.2 824.0,280.9 825.1,282.5 826.2,284.2 827.4,285.8 828.5,287.5 829.6,289.2 830.6,290.9 831.7,292.6 832.8,294.3 833.8,296.1 834.8,297.8 835.9,299.6 836.9,301.3 837.9,303.1 838.8,304.9 839.8,306.7 840.8,308.5 841.7,310.3 842.7,312.1 843.6,313.9 844.5,315.7 845.4,317.5 846.3,319.3 847.2,321.2 848.1,323.0 848.9,324.8 849.8,326.7 850.6,328.5 851.4,330.4 852.3,332.2 853.1,334.1 853.9,335.9 854.7,337.8 855.5,339.7 856.2,341.5 857.0,343.4 857.7,345.3 858.5,347.1 859.2,349.0 859.9,350.9 860.7,352.8 861.4,354.7 862.1,356.5 862.8,358.4 863.4,360.3 864.1,362.2 864.8,364.1 865.4,366.0 866.1,367.9 866.7,369.8 867.4,371.7 868.0,373.6 868.6,375.5 869.2,377.4 869.8,379.3 870.4,381.2 871.0,383.1 871.6,385.1 872.2,387.0 872.8,388.9 873.3,390.8 873.9,392.7 874.4,394.6 875.0,396.6 875.5,398.5 876.0,400.4 876.6,402.3 877.1,404.3 877.6,406.2 878.1,408.1 878.6,410.1 879.1,412.0 879.6,413.9 880.1,415.9 880.6,417.8 881.1,419.7 881.5,421.7 882.0,423.6 882.5,425.6 882.9,427.5 883.4,429.4 883.8,431.4 884.3,433.3 884.7,435.3 885.2,437.2 885.6,439.2 886.1,441.1 886.5,443.1 886.9,445.0 887.3,447.0 887.7,448.9 888.2,450.9 888.6,452.8 889.0,454.8 889.4,456.7 889.8,458.7 890.2,460.6 890.6,462.6 890.9,464.6 891.3,466.5 891.7,468.5 892.1,470.4 892.5,472.4 892.8,474.3 893.2,476.3 893.6,478.3 893.9,480.2 894.3,482.2 894.6,484.2 895.0,486.1 895.3,488.1 895.7,490.1 896.0,492.0 896.4,494.0 896.7,496.0 897.0,497.9 897.4,499.9 897.7,501.9 898.0,503.8 898.3,505.8 898.7,507.8 899.0,509.7 899.3,511.7 899.6,513.7 899.9,515.7 900.2,517.6 900.5,519.6 900.8,521.6 901.1,523.6 901.4,525.5 901.7,527.5 902.0,529.5 902.3,531.5 902.6,533.4 902.9,535.4 903.2,537.4 903.5,539.4 903.7,541.3 904.0,543.3 904.3,545.3 904.6,547.3 904.8,549.3 905.1,551.2 905.4,553.2 905.7,555.2 905.9,557.2 906.2,559.2 906.5,561.1 906.7,563.1 907.0,565.1 907.2,567.1 907.5,569.1 907.7,571.1 908.0,573.0 908.3,575.0 908.5,577.0 908.8,579.0 909.0,581.0 909.3,583.0 909.5,585.0 909.8,586.9 910.0,588.9 910.2,590.9 910.5,592.9 910.7,594.9 911.0,596.9 911.2,598.9 911.5,600.8 911.7,602.8 911.9,604.8 912.2,606.8 912.4,608.8 912.6,610.8 912.9,612.8 913.1,614.8 913.4,616.7 913.6,618.7 913.8,620.7 914.1,622.7 914.3,624.7 914.5,626.7 914.8,628.7 915.0,630.7 915.2,632.6 915.5,634.6 915.7,636.6 915.9,638.6 916.2,640.6 916.4,642.6 916.6,644.6 916.9,646.6 917.1,648.5 917.3,650.5 917.6,652.5 917.8,654.5 918.0,656.5 918.3,658.5 918.5,660.5 918.7,662.5 919.0,664.4 919.2,666.4 919.4,668.4 919.7,670.4 919.9,672.4 920.1,674.4 920.4,676.4 920.6,678.3 920.9,680.3 921.1,682.3 921.4,684.3 921.6,686.3 921.8,688.3 922.1,690.3 922.3,692.2 922.6,694.2 922.8,696.2 923.1,698.2 923.3,700.2 923.6,702.2 923.8,704.1 924.1,706.1 924.3,708.1 924.6,710.1 924.9,712.1 925.1,714.1 925.4,716.0 925.6,718.0 925.9,720.0 926.2,722.0 926.4,724.0 926.7,725.9 927.0,727.9 927.3,729.9 927.5,731.9 927.8,733.9 928.1,735.8 928.4,737.8 928.7,739.8 928.9,741.8 929.2,743.7 929.5,745.7 929.8,747.7 930.1,749.7 930.4,751.6 930.7,753.6 931.0,755.6 931.3,757.6 931.6,759.5 931.9,761.5 932.2,763.5 932.5,765.5 932.8,767.4 933.1,769.4 933.4,771.4 933.7,773.3 934.0,775.3 934.3,777.3 934.6,779.3 934.9,781.2 935.2,783.2 935.6,785.2 935.9,787.1 936.2,789.1 936.5,791.1 936.9,793.1 937.2,795.0 937.5,797.0 937.8,799.0 938.2,800.9 938.5,802.9 938.8,804.9 939.2,806.8 939.5,808.8 939.9,810.8 940.2,812.7 940.5,814.7 940.9,816.7 941.2,818.6 941.6,820.6 941.9,822.6 942.3,824.5 942.6,826.5 943.0,828.5 943.3,830.4 943.7,832.4 944.0,834.4 944.4,836.3 944.8,838.3 945.1,840.3 945.5,842.2 945.9,844.2 946.2,846.2 946.6,848.1 947.0,850.1 947.3,852.1 947.7,854.0 948.1,856.0 948.5,858.0 948.9,859.9 949.2,861.9 949.6,863.9 950.0,865.8 950.4,867.8 950.8,869.7 951.2,871.7 951.6,873.7 951.9,875.6 952.3,877.6 952.7,879.6 953.1,881.5 953.5,883.5 953.9,885.5 954.3,887.4 954.7,889.4 955.1,891.3 955.5,893.3 956.0,895.3 956.4,897.2 956.8,899.2 957.2,901.2 957.6,903.1 958.0,905.1 958.4,907.1 958.9,909.0 959.3,911.0 959.7,912.9 960.2,914.9 960.6,916.9 961.1,918.9 961.6,920.8 962.1,922.8 962.5,924.8 963.1,926.8 963.6,928.7 964.1,930.7 964.6,932.7 965.2,934.7 965.8,936.7 966.4,938.7 967.0,940.7 967.6,942.7 968.3,944.7 968.9,946.7 969.6,948.7 970.3,950.8 971.1,952.8 971.8,954.8 972.6,956.9 973.4,958.9 974.2,960.8 975.1,962.5 975.9,964.0 976.8,965.1 977.7,965.8 978.7,966.0 979.6,965.7 980.5,964.9 981.5,963.8 982.4,962.2 983.3,960.4 984.2,958.3 985.1,956.0 985.9,953.6 986.7,951.1 987.5,948.5 988.2,945.9 988.9,943.4 989.5,940.9 990.0,938.6 990.5,936.3 991.0,934.0 991.4,931.8 991.8,929.7 992.1,927.6 992.4,925.6 992.7,923.6 992.9,921.7 993.1,919.8 993.3,917.9 993.5,916.0 993.7,914.1 993.9,912.2 994.1,910.4 994.2,908.5 994.4,906.6 994.6,904.8 994.8,902.9 994.9,901.0 995.1,899.1 995.3,897.2 995.5,895.3 995.7,893.4 995.8,891.5 996.0,889.6 996.2,887.7 996.4,885.8 996.6,883.9 996.7,882.0 996.9,880.0 997.1,878.1 997.3,876.2 997.5,874.2 997.7,872.3 997.9,870.4 998.1,868.4 998.2,866.5 998.4,864.5 998.6,862.6 998.8,860.6 999.0,858.6 999.2,856.7 999.4,854.7 999.6,852.8 999.8,850.8 1000.0,848.8 1000.2,846.8 1000.4,844.9 1000.6,842.9 1000.8,840.9 1001.0,838.9 1001.2,836.9 1001.4,835.0 1001.6,833.0 1001.8,831.0 1002.0,829.0 1002.2,827.0 1002.4,825.0 1002.6,823.0 1002.8,821.0 1003.0,819.0 1003.2,817.0 1003.4,815.0 1003.6,813.0 1003.8,811.0 1004.0,809.0 1004.2,807.0 1004.4,805.0 1004.6,802.9 1004.8,800.9 1005.0,798.9 1005.2,796.9 1005.5,794.9 1005.7,792.9 1005.9,790.9 1006.1,788.8 1006.3,786.8 1006.5,784.8 1006.7,782.8 1006.9,780.8 1007.1,778.8 1007.3,776.7 1007.6,774.7 1007.8,772.7 1008.0,770.7 1008.2,768.7 1008.4,766.7 1008.6,764.6 1008.8,762.6 1009.0,760.6 1009.2,758.6 1009.5,756.6 1009.7,754.6 1009.9,752.5 1010.1,750.5 1010.3,748.5 1010.5,746.5 1010.7,744.5 1010.9,742.5 1011.2,740.5 1011.4,738.5 1011.6,736.5 1011.8,734.4 1012.0,732.4 1012.2,730.4 1012.4,728.4 1012.6,726.4 1012.9,724.4 1013.1,722.4 1013.3,720.4 1013.5,718.4 1013.7,716.4 1013.9,714.4 1014.2,712.4 1014.4,710.4 1014.6,708.4 1014.8,706.4 1015.0,704.4 1015.3,702.4 1015.5,700.4 1015.7,698.5 1015.9,696.5 1016.1,694.5 1016.4,692.5 1016.6,690.5 1016.8,688.5 1017.0,686.5 1017.3,684.5 1017.5,682.5 1017.7,680.6 1018.0,678.6 1018.2,676.6 1018.4,674.6 1018.7,672.6 1018.9,670.6 1019.1,668.6 1019.4,666.7 1019.6,664.7 1019.8,662.7 1020.1,660.7 1020.3,658.7 1020.6,656.8 1020.8,654.8 1021.1,652.8 1021.3,650.8 1021.6,648.9 1021.8,646.9 1022.1,644.9 1022.3,642.9 1022.6,641.0 1022.8,639.0 1023.1,637.0 1023.4,635.0 1023.6,633.1 1023.9,631.1 1024.2,629.1 1024.4,627.2 1024.7,625.2 1025.0,623.2 1025.3,621.2 1025.5,619.3 1025.8,617.3 1026.1,615.3 1026.4,613.4 1026.7,611.4 1026.9,609.4 1027.2,607.5 1027.5,605.5 1027.8,603.6 1028.1,601.6 1028.4,599.6 1028.7,597.7 1029.0,595.7 1029.3,593.7 1029.6,591.8 1029.9,589.8 1030.2,587.9 1030.6,585.9 1030.9,583.9 1031.2,582.0 1031.5,580.0 1031.8,578.1 1032.2,576.1 1032.5,574.1 1032.8,572.2 1033.2,570.2 1033.5,568.3 1033.8,566.3 1034.2,564.4 1034.5,562.4 1034.9,560.5 1035.2,558.5 1035.6,556.5 1035.9,554.6 1036.3,552.6 1036.7,550.7 1037.0,548.7 1037.4,546.8 1037.8,544.8 1038.2,542.9 1038.5,540.9 1038.9,539.0 1039.3,537.0 1039.7,535.1 1040.1,533.1 1040.5,531.2 1040.9,529.2 1041.3,527.3 1041.7,525.3 1042.1,523.4 1042.5,521.4 1042.9,519.5 1043.4,517.5 1043.8,515.6 1044.2,513.6 1044.6,511.7 1045.1,509.7 1045.5,507.8 1045.9,505.8 1046.4,503.9 1046.8,502.0 1047.3,500.0 1047.8,498.1 1048.2,496.1 1048.7,494.2 1049.1,492.2 1049.6,490.3 1050.1,488.3 1050.6,486.4 1051.1,484.4 1051.5,482.5 1052.0,480.5 1052.5,478.6 1053.0,476.7 1053.5,474.7 1054.1,472.8 1054.6,470.8 1055.1,468.9 1055.6,466.9 1056.1,465.0 1056.7,463.0 1057.2,461.1 1057.7,459.2 1058.3,457.2 1058.8,455.3 1059.4,453.3 1059.9,451.4 1060.5,449.4 1061.1,447.5 1061.6,445.6 1062.2,443.6 1062.8,441.7 1063.4,439.7 1064.0,437.8 1064.6,435.8 1065.2,433.9 1065.8,431.9 1066.4,430.0 1067.0,428.1 1067.6,426.1 1068.3,424.2 1068.9,422.3 1069.5,420.3 1070.2,418.4 1070.8,416.5 1071.5,414.5 1072.2,412.6 1072.9,410.7 1073.5,408.8 1074.2,406.9 1075.0,405.0 1075.7,403.1 1076.4,401.2 1077.1,399.3 1077.9,397.4 1078.6,395.5 1079.4,393.6 1080.2,391.8 1080.9,389.9 1081.7,388.0 1082.5,386.2 1083.4,384.3 1084.2,382.5 1085.0,380.7 1085.9,378.9 1086.7,377.1 1087.6,375.3 1088.5,373.5 1089.4,371.7 1090.3,369.9 1091.3,368.1 1092.2,366.4 1093.2,364.6 1094.2,362.9 1095.1,361.2 1096.1,359.5 1097.2,357.8 1098.2,356.1 1099.2,354.4 1100.3,352.7 1101.4,351.1 1102.5,349.5 1103.6,347.8 1104.7,346.2 1105.9,344.6 1107.0,343.0 1108.2,341.4 1109.4,339.9 1110.6,338.3 1111.9,336.8 1113.1,335.3 1114.4,333.8 1115.7,332.3 1117.0,330.8 1118.3,329.3 1119.6,327.9 1120.9,326.4 1122.3,325.0 1123.6,323.6 1125.0,322.1 1126.4,320.7 1127.8,319.4 1129.2,318.0 1130.6,316.6 1132.1,315.3 1133.5,313.9 1135.0,312.6 1136.5,311.2 1138.0,309.9 1139.5,308.6 1141.0,307.3 1142.5,306.0 1144.0,304.8 1145.5,303.5 1147.1,302.3 1148.6,301.0 1150.2,299.8 1151.8,298.5 1153.3,297.3 1154.9,296.1 1156.5,294.9 1158.1,293.7 1159.7,292.5 1161.4,291.3 1163.0,290.2 1164.6,289.0 1166.2,287.8 1167.9,286.7 1169.5,285.6 1171.2,284.4 1172.8,283.3 1174.5,282.2 1176.2,281.1 1177.8,280.0 1179.5,278.8 1181.2,277.8 1182.8,276.7 1184.5,275.6 1186.2,274.5 1187.9,273.4 1189.6,272.4 1191.3,271.3 1193.0,270.3 1194.7,269.2 1196.4,268.2 1198.1,267.1 1199.8,266.1 1201.6,265.1 1203.3,264.1 1205.0,263.1 1206.7,262.1 1208.5,261.1 1210.2,260.1 1211.9,259.1 1213.7,258.1 1215.4,257.1 1217.2,256.2 1218.9,255.2 1220.7,254.3 1222.4,253.3 1224.2,252.4 1225.9,251.4 1227.7,250.5 1229.5,249.6 1231.3,248.6 1233.0,247.7 1234.8,246.8 1236.6,245.9 1238.4,245.0 1240.2,244.1 1241.9,243.2 1243.7,242.3 1245.5,241.4 1247.3,240.6 1249.1,239.7 1250.9,238.8 1252.7,238.0 1254.5,237.1 1256.4,236.3 1258.2,235.4 1260.0,234.6 1261.8,233.7 1263.6,232.9 1265.5,232.1 1267.3,231.3 1269.1,230.5 1270.9,229.6 1272.8,228.8 1274.6,228.0 1276.4,227.3 1278.3,226.5 1280.1,225.7 1282.0,224.9 1283.8,224.1 1285.7,223.3 1287.5,222.6 1289.4,221.8 1291.2,221.1 1293.1,220.3 1294.9,219.6 1296.8,218.8 1298.7,218.1 1300.5,217.3 1302.4,216.6 1304.3,215.9 1306.1,215.2 1308.0,214.4 1309.9,213.7 1311.8,213.0 1313.6,212.3 1315.5,211.6 1317.4,210.9 1319.3,210.2 1321.2,209.5 1323.1,208.9 1325.0,208.2 1326.8,207.5 1328.7,206.8 1330.6,206.2 1332.5,205.5 1334.4,204.8 1336.3,204.2 1338.2,203.5 1340.1,202.9 1342.0,202.2 1343.9,201.6 1345.8,201.0 1347.7,200.3 1349.6,199.7 1351.6,199.1 1353.5,198.4 1355.4,197.8 1357.3,197.2 1359.2,196.6 1361.1,196.0 1363.0,195.4 1364.9,194.8 1366.9,194.2 1368.8,193.6 1370.7,193.0 1372.6,192.4 1374.5,191.8 1376.5,191.3 1378.4,190.7 1380.3,190.1 1382.2,189.5 1384.2,189.0 1386.1,188.4 1388.0,187.8 1390.0,187.3 1391.9,186.7 1393.8,186.2 1395.7,185.6 1397.7,185.1 1399.6,184.6 1401.5,184.1 1403.5,183.5 1405.4,183.0 1407.4,182.5 1409.3,182.0 1411.2,181.5 1413.2,181.0 1415.1,180.5 1417.0,180.1 1419.0,179.6 1420.9,179.2 1422.9,178.7 1424.8,178.3 1426.8,177.8 1428.7,177.4 1430.6,177.0 1432.6,176.6 1434.5,176.2 1436.5,175.8 1438.4,175.4 1440.4,175.1 1442.3,174.7 1444.3,174.4 1446.2,174.1 1448.2,173.7 1450.1,173.4 1452.1,173.1 1454.1,172.8 1456.0,172.6 1458.0,172.3 1459.9,172.1 1461.9,171.8 1463.8,171.6 1465.8,171.4 1467.8,171.2 1469.7,171.0 1471.7,170.9 1473.6,170.7 1475.6,170.6 1477.6,170.5 1479.5,170.4 1481.5,170.3 1483.5,170.2 1485.4,170.1 1487.4,170.1 1489.4,170.1 1491.3,170.1 1493.3,170.1 1495.3,170.1 1497.2,170.1 1499.2,170.2 1501.2,170.3 1503.1,170.4 1505.1,170.5 1507.1,170.6 1509.1,170.8 1511.0,170.9 1513.0,171.1 1515.0,171.4 1517.0,171.6 1518.9,171.8 1520.9,172.1 1522.9,172.4 1524.9,172.7 1526.8,173.0 1528.8,173.4 1530.8,173.8 1532.8,174.2 1534.8,174.6 1536.7,175.0 1538.7,175.5 1540.7,176.0 1542.7,176.5 1544.7,177.0 1546.6,177.6 1548.6,178.1 1550.6,178.7 1552.6,179.4 1554.6,180.0 1556.6,180.7 1558.6,181.4 1560.6,182.1 1562.5,182.9 1564.5,183.6 1566.5,184.4 1568.5,185.3 1570.5,186.1 1572.5,187.0" stroke="#000000" stroke-dasharray="22.5 10.5"/>
<path d="M198.9,59.9L201.4,60.1 203.8,60.3 206.1,60.6 208.5,60.9 210.8,61.2 213.0,61.6 215.2,62.1 217.4,62.5 219.5,63.1 221.6,63.6 223.7,64.2 225.7,64.8 227.7,65.5 229.7,66.2 231.6,67.0 233.5,67.7 235.4,68.6 237.2,69.4 239.0,70.3 240.7,71.2 242.5,72.2 244.2,73.1 245.8,74.2 247.5,75.2 249.1,76.3 250.7,77.4 252.2,78.5 253.7,79.7 255.2,80.9 256.7,82.1 258.1,83.4 259.5,84.6 260.9,85.9 262.3,87.3 263.6,88.6 264.9,90.0 266.2,91.4 267.4,92.8 268.7,94.3 269.9,95.8 271.1,97.3 272.2,98.8 273.4,100.3 274.5,101.9 275.6,103.5 276.7,105.1 277.7,106.7 278.7,108.3 279.8,110.0 280.8,111.6 281.7,113.3 282.7,115.0 283.6,116.7 284.6,118.5 285.5,120.2 286.4,122.0 287.3,123.7 288.1,125.5 289.0,127.3 289.8,129.1 290.6,131.0 291.4,132.8 292.2,134.6 293.0,136.5 293.7,138.3 294.5,140.2 295.2,142.1 296.0,144.0 296.7,145.9 297.4,147.8 298.1,149.7 298.8,151.6 299.5,153.5 300.1,155.4 300.8,157.3 301.4,159.2 302.1,161.1 302.7,163.1 303.4,165.0 304.0,166.9 304.6,168.8 305.2,170.8 305.8,172.7 306.4,174.6 307.0,176.6 307.6,178.5 308.2,180.4 308.8,182.3 309.4,184.3 309.9,186.2 310.5,188.1 311.1,190.1 311.6,192.0 312.2,194.0 312.7,195.9 313.2,197.8 313.8,199.8 314.3,201.7 314.8,203.6 315.3,205.6 315.8,207.5 316.3,209.5 316.8,211.4 317.3,213.4 317.8,215.3 318.3,217.2 318.8,219.2 319.3,221.1 319.7,223.1 320.2,225.0 320.7,227.0 321.1,228.9 321.6,230.9 322.0,232.8 322.5,234.8 322.9,236.7 323.3,238.7 323.8,240.6 324.2,242.6 324.6,244.5 325.0,246.5 325.5,248.5 325.9,250.4 326.3,252.4 326.7,254.3 327.1,256.3 327.5,258.2 327.9,260.2 328.3,262.2 328.6,264.1 329.0,266.1 329.4,268.0 329.8,270.0 330.2,272.0 330.5,273.9 330.9,275.9 331.3,277.9 331.6,279.8 332.0,281.8 332.3,283.7 332.7,285.7 333.0,287.7 333.4,289.6 333.7,291.6 334.0,293.6 334.4,295.5 334.7,297.5 335.0,299.5 335.4,301.4 335.7,303.4 336.0,305.4 336.4,307.4 336.7,309.3 337.0,311.3 337.3,313.3 337.6,315.2 337.9,317.2 338.2,319.2 338.5,321.2 338.9,323.1 339.2,325.1 339.5,327.1 339.8,329.0 340.1,331.0 340.4,333.0 340.6,335.0 340.9,336.9 341.2,338.9 341.5,340.9 341.8,342.9 342.1,344.8 342.4,346.8 342.7,348.8 343.0,350.8 343.2,352.7 343.5,354.7 343.8,356.7 344.1,358.7 344.4,360.7 344.6,362.6 344.9,364.6 345.2,366.6 345.4,368.6 345.7,370.5 346.0,372.5 346.2,374.5 346.5,376.5 346.8,378.5 347.0,380.4 347.3,382.4 347.6,384.4 347.8,386.4 348.1,388.4 348.3,390.3 348.6,392.3 348.8,394.3 349.1,396.3 349.3,398.3 349.6,400.3 349.8,402.2 350.1,404.2 350.3,406.2 350.6,408.2 350.8,410.2 351.0,412.2 351.3,414.1 351.5,416.1 351.8,418.1 352.0,420.1 352.2,422.1 352.5,424.1 352.7,426.0 352.9,428.0 353.2,430.0 353.4,432.0 353.6,434.0 353.8,436.0 354.1,438.0 354.3,439.9 354.5,441.9 354.7,443.9 355.0,445.9 355.2,447.9 355.4,449.9 355.6,451.9 355.8,453.9 356.0,455.8 356.3,457.8 356.5,459.8 356.7,461.8 356.9,463.8 357.1,465.8 357.3,467.8 357.5,469.8 357.7,471.7 357.9,473.7 358.1,475.7 358.3,477.7 358.5,479.7 358.7,481.7 358.9,483.7 359.1,485.7 359.3,487.7 359.5,489.7 359.7,491.6 359.9,493.6 360.1,495.6 360.3,497.6 360.5,499.6 360.7,501.6 360.9,503.6 361.1,505.6 361.3,507.6 361.4,509.6 361.6,511.6 361.8,513.5 362.0,515.5 362.2,517.5 362.4,519.5 362.5,521.5 362.7,523.5 362.9,525.5 363.1,527.5 363.3,529.5 363.4,531.5 363.6,533.5 363.8,535.5 364.0,537.5 364.1,539.4 364.3,541.4 364.5,543.4 364.7,545.4 364.8,547.4 365.0,549.4 365.2,551.4 365.3,553.4 365.5,555.4 365.7,557.4 365.8,559.4 366.0,561.4 366.2,563.4 366.3,565.4 366.5,567.4 366.7,569.4 366.8,571.3 367.0,573.3 367.1,575.3 367.3,577.3 367.5,579.3 367.6,581.3 367.8,583.3 367.9,585.3 368.1,587.3 368.2,589.3 368.4,591.3 368.5,593.3 368.7,595.3 368.8,597.3 369.0,599.3 369.2,601.3 369.3,603.3 369.5,605.3 369.6,607.3 369.8,609.2 369.9,611.2 370.0,613.2 370.2,615.2 370.3,617.2 370.5,619.2 370.6,621.2 370.8,623.2 370.9,625.2 371.1,627.2 371.2,629.2 371.3,631.2 371.5,633.2 371.6,635.2 371.8,637.2 371.9,639.2 372.1,641.2 372.2,643.2 372.3,645.2 372.5,647.2 372.6,649.2 372.7,651.2 372.9,653.1 373.0,655.1 373.2,657.1 373.3,659.1 373.4,661.1 373.6,663.1 373.7,665.1 373.8,667.1 374.0,669.1 374.1,671.1 374.2,673.1 374.4,675.1 374.5,677.1 374.6,679.1 374.8,681.1 374.9,683.1 375.0,685.1 375.2,687.1 375.3,689.1 375.4,691.1 375.5,693.0 375.7,695.0 375.8,697.0 375.9,699.0 376.1,701.0 376.2,703.0 376.3,705.0 376.4,707.0 376.6,709.0 376.7,711.0 376.8,713.0 376.9,715.0 377.1,717.0 377.2,719.0 377.3,721.0 377.5,723.0 377.6,725.0 377.7,727.0 377.8,728.9 378.0,730.9 378.1,732.9 378.2,734.9 378.3,736.9 378.4,738.9 378.6,740.9 378.7,742.9 378.8,744.9 378.9,746.9 379.1,748.9 379.2,750.9 379.3,752.9 379.4,754.9 379.5,756.9 379.7,758.9 379.8,760.8 379.9,762.8 380.0,764.8 380.2,766.8 380.3,768.8 380.4,770.8 380.5,772.8 380.6,774.8 380.8,776.8 380.9,778.8 381.0,780.8 381.1,782.8 381.2,784.8 381.3,786.8 381.5,788.8 381.6,790.8 381.7,792.8 381.8,794.7 381.9,796.7 382.1,798.7 382.2,800.7 382.3,802.7 382.4,804.7 382.5,806.7 382.7,808.7 382.8,810.7 382.9,812.7 383.0,814.7 383.1,816.7 383.2,818.7 383.4,820.7 383.5,822.7 383.6,824.7 383.7,826.7 383.8,828.7 383.9,830.6 384.1,832.6 384.2,834.6 384.3,836.6 384.4,838.6 384.5,840.6 384.6,842.6 384.8,844.6 384.9,846.6 385.0,848.6 385.1,850.6 385.2,852.6 385.3,854.6 385.5,856.6 385.6,858.6 385.7,860.6 385.8,862.6 385.9,864.6 386.0,866.6 386.2,868.6 386.3,870.6 386.4,872.6 386.5,874.6 386.6,876.6 386.7,878.6 386.9,880.6 387.0,882.6 387.1,884.5 387.2,886.5 387.3,888.5 387.4,890.5 387.6,892.5 387.7,894.5 387.8,896.5 387.9,898.5 388.0,900.5 388.1,902.5 388.3,904.5 388.4,906.5 388.5,908.5 388.6,910.5 388.7,912.5 388.8,914.5 389.0,916.5 389.1,918.5 389.2,920.5 389.3,922.5 389.4,924.5 389.6,926.5 389.7,928.5 389.8,930.5 389.9,932.5 390.0,934.5 390.1,936.5 390.3,938.5 390.4,940.5 390.5,942.5 390.6,944.5 390.7,946.5 390.9,948.5 391.0,950.5 391.1,952.5 391.2,954.6 391.3,956.6 391.5,958.6 391.6,960.6 391.7,962.6 391.8,964.6 392.0,966.6 392.1,968.6 392.2,970.6 392.3,972.6 392.5,974.6 392.6,976.6 392.7,978.5 392.8,980.5 393.0,982.5 393.1,984.5 393.2,986.5 393.3,988.5 393.5,990.5 393.6,992.5 393.7,994.5 393.9,996.5 394.0,998.5 394.1,1000.5 394.3,1002.5 394.4,1004.5 394.5,1006.5 394.7,1008.5 394.8,1010.4 394.9,1012.4 395.1,1014.4 395.2,1016.4 395.4,1018.4 395.5,1020.4 395.6,1022.4 395.8,1024.3 395.9,1026.3 396.1,1028.3 396.2,1030.3 396.4,1032.3 396.5,1034.2 396.7,1036.2 396.8,1038.2 397.0,1040.2 397.1,1042.1 397.3,1044.1 397.4,1046.1 397.6,1048.1 397.7,1050.0 397.9,1052.0 398.1,1054.0 398.2,1055.9 398.4,1057.9 398.5,1059.9 398.7,1061.9 398.8,1063.8 399.0,1065.8 399.2,1067.8 399.3,1069.8 399.5,1071.7 399.7,1073.7 399.8,1075.7 400.0,1077.7 400.1,1079.7 400.3,1081.7 400.5,1083.7 400.6,1085.7 400.8,1087.7 400.9,1089.7 401.1,1091.7 401.3,1093.7 401.4,1095.7 401.6,1097.8 401.7,1099.8 401.9,1101.8 402.0,1103.9 402.2,1105.9 402.3,1108.0 402.5,1110.1 402.7,1112.1 402.9,1114.2 403.1,1116.3 403.3,1118.4 403.5,1120.5 403.8,1122.7 404.1,1124.8 404.4,1127.0 404.7,1129.2 405.1,1131.4 405.6,1133.6 406.0,1135.8 406.6,1138.1 407.1,1140.2 407.7,1142.1 408.3,1143.5 409.0,1144.3 409.7,1144.4 410.3,1143.7 411.0,1142.4 411.7,1140.7 412.3,1138.6 412.9,1136.3 413.5,1134.1 414.1,1131.9 414.6,1129.7 415.1,1127.5 415.5,1125.4 416.0,1123.3 416.4,1121.2 416.7,1119.1 417.1,1117.0 417.4,1115.0 417.7,1113.0 418.0,1110.9 418.3,1108.9 418.6,1106.9 418.9,1104.9 419.1,1102.9 419.4,1100.9 419.6,1098.9 419.8,1096.9 420.1,1094.9 420.3,1092.8 420.5,1090.8 420.7,1088.8 420.9,1086.8 421.1,1084.8 421.3,1082.8 421.5,1080.9 421.6,1078.9 421.8,1076.9 422.0,1074.9 422.1,1072.9 422.3,1070.9 422.5,1068.9 422.6,1066.9 422.7,1064.9 422.9,1062.9 423.0,1060.9 423.1,1058.9 423.3,1056.9 423.4,1054.9 423.5,1053.0 423.6,1051.0 423.7,1049.0 423.8,1047.0 424.0,1045.0 424.1,1043.0 424.2,1041.0 424.3,1039.0 424.3,1037.1 424.4,1035.1 424.5,1033.1 424.6,1031.1 424.7,1029.1 424.8,1027.1 424.9,1025.1 424.9,1023.1 425.0,1021.2 425.1,1019.2 425.2,1017.2 425.3,1015.2 425.3,1013.2 425.4,1011.2 425.5,1009.2 425.5,1007.3 425.6,1005.3 425.7,1003.3 425.8,1001.3 425.8,999.3 425.9,997.3 426.0,995.3 426.0,993.3 426.1,991.3 426.2,989.4 426.3,987.4 426.3,985.4 426.4,983.4 426.5,981.4 426.6,979.4 426.6,977.4 426.7,975.4 426.8,973.4 426.9,971.4 427.0,969.4 427.1,967.4 427.2,965.4 427.2,963.4 427.3,961.4 427.4,959.4 427.5,957.4 427.6,955.4 427.7,953.4 427.8,951.4 427.9,949.4 428.0,947.4 428.1,945.4 428.2,943.4 428.3,941.4 428.4,939.4 428.5,937.4 428.6,935.4 428.7,933.4 428.8,931.4 428.9,929.4 429.0,927.4 429.1,925.4 429.2,923.4 429.3,921.4 429.4,919.4 429.5,917.4 429.6,915.4 429.7,913.4 429.8,911.4 430.0,909.4 430.1,907.4 430.2,905.3 430.3,903.3 430.4,901.3 430.5,899.3 430.6,897.3 430.7,895.3 430.8,893.3 430.9,891.3 431.1,889.3 431.2,887.3 431.3,885.3 431.4,883.3 431.5,881.3 431.6,879.3 431.7,877.3 431.8,875.3 431.9,873.3 432.1,871.3 432.2,869.3 432.3,867.3 432.4,865.3 432.5,863.3 432.6,861.3 432.7,859.3 432.8,857.3 432.9,855.3 433.1,853.3 433.2,851.3 433.3,849.3 433.4,847.3 433.5,845.3 433.6,843.3 433.7,841.3 433.8,839.3 433.9,837.3 434.0,835.3 434.1,833.3 434.3,831.3 434.4,829.3 434.5,827.3 434.6,825.3 434.7,823.3 434.8,821.3 434.9,819.3 435.0,817.3 435.1,815.3 435.2,813.3 435.4,811.3 435.5,809.3 435.6,807.3 435.7,805.3 435.8,803.3 435.9,801.3 436.0,799.3 436.1,797.3 436.2,795.3 436.4,793.3 436.5,791.3 436.6,789.3 436.7,787.3 436.8,785.4 436.9,783.4 437.0,781.4 437.1,779.4 437.3,777.4 437.4,775.4 437.5,773.4 437.6,771.4 437.7,769.4 437.8,767.4 437.9,765.4 438.1,763.4 438.2,761.4 438.3,759.4 438.4,757.5 438.5,755.5 438.6,753.5 438.8,751.5 438.9,749.5 439.0,747.5 439.1,745.5 439.2,743.5 439.4,741.5 439.5,739.5 439.6,737.5 439.7,735.6 439.9,733.6 440.0,731.6 440.1,729.6 440.2,727.6 440.3,725.6 440.5,723.6 440.6,721.6 440.7,719.6 440.9,717.6 441.0,715.6 441.1,713.7 441.2,711.7 441.4,709.7 441.5,707.7 441.6,705.7 441.8,703.7 441.9,701.7 442.0,699.7 442.2,697.7 442.3,695.8 442.4,693.8 442.6,691.8 442.7,689.8 442.8,687.8 443.0,685.8 443.1,683.8 443.3,681.8 443.4,679.8 443.5,677.9 443.7,675.9 443.8,673.9 444.0,671.9 444.1,669.9 444.3,667.9 444.4,665.9 444.5,663.9 444.7,661.9 444.8,659.9 445.0,658.0 445.1,656.0 445.3,654.0 445.4,652.0 445.6,650.0 445.8,648.0 445.9,646.0 446.1,644.0 446.2,642.0 446.4,640.1 446.5,638.1 446.7,636.1 446.9,634.1 447.0,632.1 447.2,630.1 447.3,628.1 447.5,626.1 447.7,624.1 447.8,622.2 448.0,620.2 448.2,618.2 448.4,616.2 448.5,614.2 448.7,612.2 448.9,610.2 449.0,608.2 449.2,606.2 449.4,604.2 449.6,602.3 449.8,600.3 449.9,598.3 450.1,596.3 450.3,594.3 450.5,592.3 450.7,590.3 450.9,588.3 451.1,586.3 451.2,584.3 451.4,582.3 451.6,580.4 451.8,578.4 452.0,576.4 452.2,574.4 452.4,572.4 452.6,570.4 452.8,568.4 453.0,566.4 453.2,564.4 453.4,562.4 453.6,560.4 453.8,558.4 454.0,556.5 454.2,554.5 454.5,552.5 454.7,550.5 454.9,548.5 455.1,546.5 455.3,544.5 455.5,542.5 455.8,540.5 456.0,538.5 456.2,536.5 456.4,534.5 456.6,532.5 456.9,530.5 457.1,528.5 457.3,526.5 457.6,524.6 457.8,522.6 458.0,520.6 458.3,518.6 458.5,516.6 458.8,514.6 459.0,512.6 459.2,510.6 459.5,508.6 459.7,506.6 460.0,504.6 460.2,502.6 460.5,500.6 460.7,498.6 461.0,496.6 461.3,494.6 461.5,492.6 461.8,490.6 462.1,488.6 462.3,486.6 462.6,484.6 462.9,482.7 463.2,480.7 463.5,478.7 463.8,476.7 464.1,474.7 464.4,472.7 464.7,470.7 465.0,468.7 465.3,466.7 465.6,464.8 465.9,462.8 466.2,460.8 466.5,458.8 466.9,456.8 467.2,454.8 467.5,452.9 467.9,450.9 468.2,448.9 468.6,446.9 468.9,445.0 469.3,443.0 469.7,441.0 470.0,439.0 470.4,437.1 470.8,435.1 471.2,433.1 471.6,431.2 472.0,429.2 472.4,427.3 472.8,425.3 473.2,423.3 473.6,421.4 474.1,419.4 474.5,417.5 474.9,415.5 475.4,413.6 475.8,411.6 476.3,409.7 476.7,407.8 477.2,405.8 477.7,403.9 478.2,401.9 478.7,400.0 479.2,398.1 479.7,396.2 480.2,394.2 480.7,392.3 481.2,390.4 481.8,388.5 482.3,386.5 482.8,384.6 483.4,382.7 484.0,380.8 484.5,378.9 485.1,377.0 485.7,375.1 486.3,373.2 486.9,371.3 487.5,369.4 488.1,367.5 488.8,365.7 489.4,363.8 490.0,361.9 490.7,360.0 491.4,358.1 492.0,356.3 492.7,354.4 493.4,352.5 494.1,350.7 494.8,348.8 495.5,347.0 496.3,345.1 497.0,343.3 497.7,341.4 498.5,339.6 499.3,337.8 500.0,335.9 500.8,334.1 501.6,332.3 502.4,330.5 503.2,328.6 504.0,326.8 504.9,325.0 505.7,323.2 506.6,321.4 507.4,319.6 508.3,317.8 509.2,316.0 510.1,314.3 511.0,312.5 511.9,310.7 512.9,308.9 513.8,307.2 514.8,305.4 515.7,303.6 516.7,301.9 517.7,300.1 518.7,298.4 519.7,296.7 520.8,295.0 521.8,293.3 522.9,291.6 524.0,289.9 525.1,288.2 526.2,286.6 527.3,284.9 528.5,283.3 529.7,281.7 530.9,280.1 532.1,278.6 533.3,277.0 534.6,275.5 535.9,274.0 537.2,272.5 538.5,271.1 539.9,269.6 541.3,268.2 542.7,266.9 544.1,265.5 545.6,264.2 547.1,262.9 548.6,261.7 550.2,260.4 551.8,259.3 553.4,258.1 555.0,257.0 556.7,255.9 558.4,254.9 560.2,253.8 561.9,252.9 563.8,251.9 565.6,251.1 567.5,250.2 569.4,249.4 571.4,248.6 573.4,247.9 575.4,247.3 577.5,246.7 579.5,246.1 581.6,245.6 583.7,245.2 585.8,244.9 587.9,244.6 589.9,244.4 592.0,244.3 594.0,244.2 596.1,244.3 598.1,244.5 600.0,244.7 602.0,245.1 603.8,245.5 605.7,246.1 607.5,246.7 609.2,247.5 610.8,248.5 612.4,249.5 614.0,250.6 615.4,251.9 616.9,253.2 618.3,254.6 619.6,256.0 620.9,257.6 622.2,259.1 623.4,260.7 624.6,262.3 625.8,263.9 627.0,265.6 628.2,267.2 629.4,268.8 630.5,270.5 631.6,272.2 632.7,273.8 633.8,275.5 634.9,277.2 636.0,278.9 637.0,280.6 638.0,282.4 639.0,284.1 640.0,285.8 641.0,287.6 642.0,289.3 643.0,291.1 643.9,292.8 644.8,294.6 645.8,296.4 646.7,298.2 647.6,300.0 648.4,301.8 649.3,303.6 650.2,305.4 651.0,307.2 651.8,309.0 652.7,310.8 653.5,312.7 654.3,314.5 655.1,316.3 655.9,318.2 656.6,320.0 657.4,321.9 658.2,323.7 658.9,325.6 659.6,327.5 660.4,329.3 661.1,331.2 661.8,333.1 662.5,335.0 663.2,336.9 663.9,338.7 664.6,340.6 665.3,342.5 665.9,344.4 666.6,346.3 667.2,348.2 667.9,350.1 668.5,352.0 669.2,353.9 669.8,355.8 670.5,357.7 671.1,359.6 671.7,361.5 672.3,363.4 672.9,365.3 673.5,367.2 674.1,369.1 674.7,371.0 675.3,372.9 675.9,374.8 676.5,376.7 677.1,378.6 677.7,380.5 678.2,382.5 678.8,384.4 679.4,386.3 679.9,388.2 680.5,390.1 681.1,392.0 681.6,393.9 682.2,395.9 682.7,397.8 683.2,399.7 683.8,401.6 684.3,403.5 684.8,405.5 685.4,407.4 685.9,409.3 686.4,411.2 686.9,413.2 687.4,415.1 687.9,417.0 688.5,418.9 689.0,420.9 689.5,422.8 690.0,424.7 690.5,426.7 691.0,428.6 691.5,430.5 691.9,432.4 692.4,434.4 692.9,436.3 693.4,438.2 693.9,440.2 694.4,442.1 694.8,444.0 695.3,446.0 695.8,447.9 696.3,449.9 696.7,451.8 697.2,453.7 697.7,455.7 698.1,457.6 698.6,459.6 699.1,461.5 699.5,463.4 700.0,465.4 700.5,467.3 700.9,469.3 701.4,471.2 701.8,473.2 702.3,475.1 702.8,477.1 703.2,479.0 703.7,480.9 704.1,482.9 704.6,484.8 705.0,486.8 705.5,488.7 705.9,490.7 706.4,492.6 706.8,494.6 707.3,496.5 707.7,498.5 708.2,500.4 708.7,502.4 709.1,504.3 709.6,506.3 710.0,508.2 710.5,510.2 710.9,512.1 711.4,514.1 711.8,516.1 712.3,518.0 712.8,520.0 713.2,521.9 713.7,523.9 714.1,525.8 714.6,527.8 715.1,529.7 715.5,531.7 716.0,533.7 716.4,535.6 716.9,537.6 717.4,539.5 717.9,541.5 718.3,543.4 718.8,545.4 719.3,547.4 719.8,549.3 720.2,551.3 720.7,553.2 721.2,555.2 721.7,557.1 722.2,559.1 722.7,561.0 723.1,563.0 723.6,565.0 724.1,566.9 724.6,568.9 725.1,570.8 725.6,572.7 726.1,574.7 726.6,576.6 727.2,578.6 727.7,580.5 728.2,582.5 728.7,584.4 729.2,586.3 729.7,588.3 730.3,590.2 730.8,592.1 731.3,594.1 731.9,596.0 732.4,597.9 732.9,599.8 733.5,601.8 734.0,603.7 734.6,605.6 735.1,607.5 735.7,609.4 736.2,611.3 736.8,613.2 737.4,615.1 737.9,617.0 738.5,618.9 739.1,620.8 739.7,622.7 740.3,624.6 740.8,626.5 741.4,628.4 742.0,630.3 742.6,632.1 743.2,634.0 743.9,635.9 744.5,637.7 745.1,639.6 745.7,641.4 746.3,643.3 747.0,645.1 747.6,647.0 748.2,648.8 748.9,650.7 749.5,652.5 750.2,654.3 750.9,656.2 751.6,658.0 752.3,659.8 753.0,661.7 753.7,663.5 754.4,665.3 755.1,667.2 755.8,669.0 756.6,670.8 757.4,672.7 758.1,674.5 758.9,676.4 759.7,678.2 760.5,680.1 761.4,681.9 762.2,683.8 763.1,685.6 764.0,687.5 764.8,689.3 765.8,691.2 766.7,693.1 767.6,695.0 768.6,696.9 769.6,698.7 770.6,700.6 771.6,702.5 772.6,704.5 773.7,706.4 774.7,708.3 775.8,710.2 777.0,712.2 778.1,714.1 779.3,716.1 780.5,717.9 781.7,719.6 782.9,721.1 784.2,722.3 785.5,723.2 786.8,723.7 788.1,723.8 789.5,723.4 790.9,722.6 792.3,721.5 793.7,720.0 795.1,718.4 796.5,716.5 797.9,714.5 799.2,712.5 800.5,710.3 801.7,708.2 802.9,706.2 804.0,704.2 805.1,702.2 806.1,700.2 807.1,698.3 808.1,696.4 809.0,694.5 809.9,692.6 810.7,690.8 811.5,689.0 812.3,687.2 813.0,685.4 813.7,683.6 814.4,681.9 815.1,680.1 815.8,678.3 816.4,676.6 817.0,674.8 817.6,673.1 818.2,671.3 818.8,669.5 819.4,667.7 820.0,665.9 820.5,664.1 821.1,662.3 821.7,660.5 822.3,658.6 822.8,656.8 823.4,654.9 824.0,653.0 824.5,651.1 825.1,649.2 825.7,647.3 826.2,645.4 826.8,643.5 827.4,641.5 827.9,639.6 828.5,637.6 829.1,635.7 829.6,633.8 830.2,631.8 830.8,629.8 831.3,627.9 831.9,625.9 832.5,624.0 833.0,622.0 833.6,620.1 834.2,618.1 834.8,616.2 835.4,614.2 836.0,612.3 836.5,610.4 837.1,608.4 837.7,606.5 838.3,604.6 838.9,602.6 839.5,600.7 840.1,598.8 840.7,596.9 841.3,595.0 841.9,593.1 842.5,591.2 843.1,589.3 843.7,587.3 844.3,585.4 844.9,583.5 845.5,581.6 846.1,579.7 846.7,577.8 847.2,575.9 847.8,574.0 848.4,572.1 849.0,570.2 849.5,568.3 850.1,566.4 850.7,564.5 851.2,562.6 851.8,560.7 852.3,558.7 852.8,556.8 853.4,554.9 853.9,553.0 854.4,551.1 854.9,549.1 855.4,547.2 855.9,545.3 856.4,543.3 856.9,541.4 857.4,539.5 857.9,537.5 858.4,535.6 858.9,533.6 859.3,531.7 859.8,529.8 860.3,527.8 860.8,525.9 861.2,523.9 861.7,522.0 862.2,520.0 862.7,518.1 863.1,516.1 863.6,514.2 864.1,512.2 864.5,510.3 865.0,508.3 865.5,506.4 865.9,504.4 866.4,502.5 866.9,500.5 867.3,498.6 867.8,496.6 868.3,494.7 868.8,492.7 869.3,490.8 869.8,488.9 870.2,486.9 870.7,485.0 871.2,483.0 871.7,481.1 872.2,479.1 872.8,477.2 873.3,475.3 873.8,473.3 874.3,471.4 874.9,469.5 875.4,467.6 875.9,465.6 876.5,463.7 877.0,461.8 877.6,459.9 878.2,457.9 878.8,456.0 879.3,454.1 879.9,452.2 880.5,450.3 881.1,448.4 881.8,446.5 882.4,444.6 883.0,442.7 883.7,440.8 884.3,438.9 885.0,437.0 885.6,435.2 886.3,433.3 887.0,431.4 887.7,429.5 888.3,427.6 889.0,425.8 889.7,423.9 890.5,422.0 891.2,420.2 891.9,418.3 892.6,416.5 893.4,414.6 894.1,412.7 894.9,410.9 895.6,409.0 896.4,407.2 897.1,405.4 897.9,403.5 898.7,401.7 899.5,399.8 900.3,398.0 901.1,396.2 901.9,394.3 902.7,392.5 903.5,390.7 904.3,388.9 905.1,387.0 906.0,385.2 906.8,383.4 907.6,381.6 908.5,379.8 909.3,378.0 910.2,376.2 911.1,374.4 911.9,372.6 912.8,370.8 913.7,369.0 914.5,367.2 915.4,365.4 916.3,363.6 917.2,361.8 918.1,360.0 919.0,358.2 919.9,356.4 920.8,354.7 921.7,352.9 922.6,351.1 923.6,349.3 924.5,347.6 925.4,345.8 926.3,344.0 927.3,342.3 928.2,340.5 929.2,338.8 930.2,337.0 931.2,335.3 932.2,333.6 933.2,331.8 934.2,330.2 935.3,328.5 936.4,326.8 937.6,325.2 938.7,323.5 939.9,321.9 941.2,320.4 942.4,318.8 943.8,317.3 945.1,315.7 946.5,314.3 948.0,312.8 949.5,311.4 951.0,310.0 952.6,308.6 954.2,307.3 955.9,306.0 957.6,304.8 959.3,303.6 961.1,302.4 962.9,301.3 964.7,300.2 966.5,299.2 968.4,298.3 970.3,297.4 972.2,296.5 974.1,295.8 976.0,295.1 977.9,294.4 979.8,293.8 981.7,293.3 983.7,292.9 985.6,292.6 987.5,292.3 989.4,292.1 991.3,292.0 993.2,291.9 995.0,292.0 996.9,292.1 998.7,292.3 1000.5,292.6 1002.3,293.0 1004.1,293.5 1005.8,294.0 1007.6,294.6 1009.3,295.2 1011.0,296.0 1012.7,296.7 1014.4,297.6 1016.1,298.5 1017.7,299.4 1019.4,300.4 1021.0,301.5 1022.6,302.6 1024.2,303.8 1025.8,305.0 1027.3,306.2 1028.9,307.5 1030.4,308.8 1031.9,310.2 1033.4,311.6 1034.9,313.0 1036.4,314.4 1037.8,315.9 1039.3,317.4 1040.7,318.9 1042.1,320.4 1043.5,321.9 1044.9,323.5 1046.3,325.1 1047.6,326.7 1049.0,328.2 1050.3,329.8 1051.6,331.4 1052.9,333.0 1054.2,334.7 1055.4,336.3 1056.7,337.9 1057.9,339.5 1059.2,341.2 1060.4,342.8 1061.6,344.5 1062.8,346.2 1064.0,347.8 1065.2,349.5 1066.3,351.2 1067.5,352.9 1068.6,354.6 1069.8,356.3 1070.9,358.0 1072.0,359.7 1073.1,361.4 1074.2,363.1 1075.3,364.8 1076.3,366.5 1077.4,368.3 1078.5,370.0 1079.5,371.7 1080.6,373.5 1081.6,375.2 1082.6,377.0 1083.6,378.7 1084.7,380.5 1085.7,382.3 1086.7,384.0 1087.6,385.8 1088.6,387.5 1089.6,389.3 1090.6,391.1 1091.5,392.9 1092.5,394.6 1093.5,396.4 1094.4,398.2 1095.4,400.0 1096.3,401.8 1097.3,403.5 1098.2,405.3 1099.1,407.1 1100.0,408.9 1101.0,410.7 1101.9,412.5 1102.8,414.3 1103.7,416.1 1104.6,417.8 1105.5,419.6 1106.5,421.4 1107.4,423.2 1108.3,425.0 1109.2,426.8 1110.1,428.6 1111.0,430.4 1111.9,432.1 1112.8,433.9 1113.7,435.7 1114.5,437.5 1115.4,439.3 1116.3,441.1 1117.2,442.9 1118.1,444.7 1119.0,446.4 1119.9,448.2 1120.7,450.0 1121.6,451.8 1122.5,453.6 1123.4,455.4 1124.2,457.2 1125.1,458.9 1126.0,460.7 1126.8,462.5 1127.7,464.3 1128.5,466.1 1129.4,467.9 1130.3,469.7 1131.1,471.5 1132.0,473.2 1132.8,475.0 1133.7,476.8 1134.5,478.6 1135.4,480.4 1136.2,482.2 1137.1,484.0 1137.9,485.8 1138.7,487.6 1139.6,489.3 1140.4,491.1 1141.3,492.9 1142.1,494.7 1142.9,496.5 1143.8,498.3 1144.6,500.1 1145.4,501.9 1146.2,503.7 1147.1,505.5 1147.9,507.3 1148.7,509.1 1149.5,510.9 1150.3,512.7 1151.2,514.4 1152.0,516.2 1152.8,518.0 1153.6,519.8 1154.4,521.6 1155.2,523.4 1156.0,525.2 1156.8,527.0 1157.6,528.8 1158.4,530.6 1159.2,532.4 1160.0,534.2 1160.8,536.0 1161.6,537.8 1162.4,539.6 1163.2,541.4 1164.0,543.3 1164.8,545.1 1165.6,546.9 1166.4,548.7 1167.2,550.5 1168.0,552.3 1168.8,554.1 1169.6,555.9 1170.3,557.7 1171.1,559.5 1171.9,561.3 1172.7,563.2 1173.5,565.0 1174.3,566.8 1175.0,568.6 1175.8,570.4 1176.6,572.2 1177.4,574.0 1178.1,575.9 1178.9,577.7 1179.7,579.5 1180.4,581.3 1181.2,583.2 1182.0,585.0 1182.7,586.8 1183.5,588.6 1184.3,590.5 1185.0,592.3 1185.8,594.1 1186.6,595.9 1187.3,597.8 1188.1,599.6 1188.8,601.4 1189.6,603.3 1190.3,605.1 1191.1,606.9 1191.9,608.8 1192.6,610.6 1193.4,612.5 1194.1,614.3 1194.9,616.1 1195.6,618.0 1196.4,619.8 1197.1,621.7 1197.9,623.5 1198.6,625.4 1199.4,627.2 1200.1,629.1 1200.8,630.9 1201.6,632.8 1202.3,634.6 1203.1,636.5 1203.8,638.3 1204.6,640.2 1205.3,642.0 1206.0,643.9 1206.8,645.8 1207.5,647.6 1208.3,649.5 1209.0,651.4 1209.7,653.2 1210.5,655.1 1211.2,657.0 1211.9,658.8 1212.7,660.7 1213.4,662.6 1214.1,664.5 1214.9,666.3 1215.6,668.2 1216.3,670.1 1217.1,672.0 1217.8,673.9 1218.5,675.8 1219.2,677.6 1220.0,679.5 1220.7,681.4 1221.4,683.3 1222.1,685.2 1222.9,687.1 1223.6,689.0 1224.3,690.9 1225.0,692.8 1225.8,694.7 1226.5,696.6 1227.2,698.5 1227.9,700.4 1228.7,702.3 1229.4,704.2 1230.1,706.2 1230.8,708.1 1231.6,710.0 1232.3,711.9 1233.0,713.8 1233.7,715.8 1234.4,717.7 1235.2,719.6 1235.9,721.5 1236.6,723.5 1237.3,725.4 1238.0,727.3 1238.8,729.3 1239.5,731.2 1240.2,733.1 1240.9,735.1 1241.6,737.0 1242.3,739.0 1243.1,740.9 1243.8,742.9 1244.5,744.8 1245.2,746.8 1245.9,748.7 1246.7,750.7 1247.4,752.6 1248.1,754.6 1248.8,756.6 1249.5,758.5 1250.2,760.5 1251.0,762.4 1251.7,764.4 1252.4,766.4 1253.2,768.3 1253.9,770.2 1254.7,772.2 1255.5,774.1 1256.2,776.0 1257.0,777.9 1257.9,779.7 1258.7,781.6 1259.5,783.4 1260.4,785.2 1261.3,787.0 1262.2,788.8 1263.2,790.5 1264.1,792.3 1265.1,793.9 1266.1,795.6 1267.2,797.2 1268.2,798.8 1269.3,800.4 1270.5,801.9 1271.7,803.4 1272.9,804.8 1274.1,806.2 1275.4,807.6 1276.7,808.9 1278.1,810.2 1279.5,811.4 1280.9,812.5 1282.4,813.7 1284.0,814.7 1285.6,815.7 1287.2,816.7 1288.9,817.6 1290.6,818.4 1292.4,819.2 1294.3,819.9 1296.1,820.6 1298.0,821.2 1300.0,821.6 1301.9,822.0 1303.8,822.3 1305.8,822.5 1307.7,822.6 1309.6,822.6 1311.6,822.5 1313.4,822.2 1315.3,821.8 1317.1,821.3 1318.8,820.7 1320.5,819.9 1322.2,818.9 1323.7,817.8 1325.2,816.5 1326.6,815.1 1327.9,813.4 1329.1,811.7 1330.3,809.8 1331.4,807.8 1332.4,805.7 1333.4,803.5 1334.3,801.3 1335.2,799.0 1336.1,796.7 1337.0,794.4 1337.8,792.1 1338.6,789.8 1339.5,787.5 1340.3,785.3 1341.2,783.2 1342.0,781.0 1342.8,779.0 1343.7,776.9 1344.5,774.9 1345.4,772.9 1346.2,771.0 1347.1,769.0 1347.9,767.2 1348.8,765.3 1349.6,763.4 1350.5,761.6 1351.3,759.8 1352.2,758.1 1353.0,756.3 1353.8,754.6 1354.7,752.9 1355.5,751.1 1356.4,749.4 1357.2,747.8 1358.1,746.1 1358.9,744.4 1359.8,742.8 1360.6,741.1 1361.4,739.4 1362.3,737.8 1363.1,736.1 1363.9,734.5 1364.8,732.8 1365.6,731.1 1366.4,729.5 1367.3,727.8 1368.1,726.1 1368.9,724.4 1369.7,722.7 1370.5,721.0 1371.3,719.3 1372.2,717.5 1373.0,715.8 1373.8,714.0 1374.6,712.3 1375.4,710.5 1376.2,708.8 1377.0,707.0 1377.8,705.2 1378.6,703.4 1379.4,701.6 1380.2,699.9 1381.0,698.1 1381.8,696.2 1382.6,694.4 1383.4,692.6 1384.2,690.8 1385.0,689.0 1385.8,687.2 1386.6,685.3 1387.4,683.5 1388.2,681.7 1389.1,679.8 1389.9,678.0 1390.7,676.2 1391.5,674.3 1392.3,672.5 1393.1,670.6 1394.0,668.8 1394.8,666.9 1395.6,665.1 1396.4,663.2 1397.3,661.4 1398.1,659.5 1398.9,657.6 1399.8,655.8 1400.6,653.9 1401.5,652.1 1402.3,650.2 1403.2,648.4 1404.0,646.5 1404.9,644.7 1405.8,642.8 1406.6,641.0 1407.5,639.1 1408.4,637.3 1409.3,635.5 1410.2,633.6 1411.0,631.8 1411.9,630.0 1412.9,628.1 1413.8,626.3 1414.7,624.5 1415.6,622.7 1416.5,620.8 1417.5,619.0 1418.4,617.2 1419.4,615.4 1420.3,613.6 1421.3,611.8 1422.2,610.1 1423.2,608.3 1424.2,606.5 1425.2,604.7 1426.2,603.0 1427.2,601.2 1428.2,599.5 1429.2,597.7 1430.2,596.0 1431.2,594.2 1432.3,592.5 1433.3,590.8 1434.4,589.1 1435.4,587.3 1436.5,585.6 1437.6,583.9 1438.7,582.2 1439.7,580.6 1440.8,578.9 1441.9,577.2 1443.0,575.5 1444.2,573.9 1445.3,572.2 1446.4,570.6 1447.6,569.0 1448.7,567.3 1449.9,565.7 1451.0,564.1 1452.2,562.5 1453.4,560.9 1454.6,559.3 1455.8,557.7 1457.0,556.2 1458.2,554.6 1459.5,553.0 1460.7,551.5 1461.9,549.9 1463.2,548.4 1464.4,546.9 1465.7,545.4 1467.0,543.9 1468.3,542.4 1469.6,540.9 1470.9,539.4 1472.2,538.0 1473.5,536.5 1474.9,535.1 1476.2,533.6 1477.6,532.2 1478.9,530.8 1480.3,529.4 1481.7,528.0 1483.1,526.6 1484.5,525.2 1485.9,523.9 1487.3,522.5 1488.8,521.2 1490.2,519.9 1491.7,518.5 1493.1,517.2 1494.6,515.9 1496.1,514.6 1497.6,513.4 1499.1,512.1 1500.6,510.9 1502.1,509.6 1503.7,508.4 1505.2,507.2 1506.8,506.0 1508.4,504.8 1509.9,503.6 1511.5,502.4 1513.1,501.3 1514.7,500.1 1516.4,499.0 1518.0,497.9 1519.7,496.8 1521.3,495.7 1523.0,494.6 1524.7,493.6 1526.4,492.5 1528.1,491.5 1529.8,490.5 1531.5,489.4 1533.3,488.4 1535.0,487.5 1536.8,486.5 1538.6,485.5 1540.4,484.6 1542.2,483.7 1544.0,482.8 1545.8,481.9 1547.7,481.0 1549.5,480.1 1551.4,479.3 1553.3,478.4 1555.1,477.6 1557.0,476.8 1559.0,476.0 1560.9,475.2 1562.8,474.5 1564.8,473.7 1566.8,473.0 1568.7,472.3 1570.7,471.6 1572.7,470.9" stroke="#ff00ff"/>
<path d="M1204.6,934H1340.9" stroke="#00b050" stroke-dasharray="43.5 20.5 12.3 20.5"/>
<path d="M1204.6,1016.2H1340.9" stroke="#000000" stroke-dasharray="22.5 10.5"/>
<path d="M1204.6,1092.4H1340.9" stroke="#ff00ff"/>
</g>
<rect x="199.8" y="50.0" width="1372.9" height="1107.7" fill="none" stroke="#000" stroke-width="4.6"/>
<text transform="translate(148.53,69.07) scale(1.0091,1)" font-size="64.30">0</text>
<text transform="translate(133.09,290.64) scale(0.9268,1)" font-size="64.30">-5</text>
<text transform="translate(107.73,511.82) scale(0.9521,1)" font-size="64.30">-10</text>
<text transform="translate(107.79,733.71) scale(0.9281,1)" font-size="64.30">-15</text>
<text transform="translate(107.73,955.42) scale(0.9521,1)" font-size="64.30">-20</text>
<text transform="translate(106.76,1177.47) scale(0.9404,1)" font-size="64.30">-25</text>
<text transform="translate(188.08,1223.72) scale(0.8500,1)" font-size="64.30">1</text>
<text transform="translate(462.34,1223.27) scale(0.8659,1)" font-size="64.30">3</text>
<text transform="translate(737.85,1223.34) scale(0.9227,1)" font-size="64.30">5</text>
<text transform="translate(1012.78,1223.65) scale(0.9709,1)" font-size="64.30">7</text>
<text transform="translate(1289.66,1223.37) scale(0.9839,1)" font-size="64.30">9</text>
<text transform="translate(1554.71,1223.72) scale(0.8500,1)" font-size="64.30">11</text>
<text transform="translate(667.02,1286.71) scale(1.0043,1)" font-size="61.56">Frequency (GHz)</text>
<text transform="translate(846.48,1363.48) scale(1.0396,1)" font-size="61.65">(a)</text>
<text transform="translate(1387.40,950.17) scale(0.9319,1)" font-size="64.20">Step-1</text>
<text transform="translate(1387.33,1034.47) scale(0.9488,1)" font-size="64.20">Step-2</text>
<text transform="translate(1387.38,1112.17) scale(0.9365,1)" font-size="64.20">Step-3</text>
<text transform="translate(71.5,723.1) rotate(-90)" font-size="62">|S<tspan font-size="41.4" dy="9.9">11</tspan><tspan dy="-9.9">| (dB)</tspan></text>
<path d="M350.8,2449.6V2439.2 M431.0,2449.6V2429.1 M511.3,2449.6V2439.2 M591.6,2449.6V2429.1 M671.8,2449.6V2439.2 M752.1,2449.6V2429.1 M832.4,2449.6V2439.2 M912.6,2449.6V2429.1 M992.9,2449.6V2439.2 M1073.2,2449.6V2429.1 M1153.5,2449.6V2439.2 M1233.7,2449.6V2429.1 M1314.0,2449.6V2439.2 M1394.3,2449.6V2429.1 M1474.5,2449.6V2439.2 M270.5,1532.6H280.9 M270.5,1634.5H291.0 M270.5,1736.4H280.9 M270.5,1838.3H291.0 M270.5,1940.2H280.9 M270.5,2042.0H291.0 M270.5,2143.9H280.9 M270.5,2245.8H291.0 M270.5,2347.7H280.9" stroke="#000" stroke-width="4" fill="none"/>
<g fill="none" stroke-width="10.5" stroke-linejoin="round">
<path d="M271.8,1497.8L273.7,1498.3 275.7,1498.7 277.7,1499.1 279.7,1499.6 281.6,1500.0 283.6,1500.5 285.6,1500.9 287.5,1501.4 289.5,1501.8 291.4,1502.3 293.4,1502.7 295.4,1503.2 297.3,1503.7 299.3,1504.1 301.2,1504.6 303.2,1505.1 305.1,1505.6 307.1,1506.1 309.0,1506.5 311.0,1507.0 312.9,1507.5 314.9,1508.0 316.8,1508.5 318.8,1509.0 320.7,1509.5 322.6,1510.1 324.6,1510.6 326.5,1511.1 328.4,1511.6 330.4,1512.1 332.3,1512.7 334.2,1513.2 336.1,1513.7 338.1,1514.3 340.0,1514.8 341.9,1515.4 343.8,1515.9 345.7,1516.5 347.7,1517.1 349.6,1517.6 351.5,1518.2 353.4,1518.8 355.3,1519.4 357.2,1520.0 359.1,1520.5 361.0,1521.1 362.9,1521.7 364.8,1522.3 366.7,1523.0 368.6,1523.6 370.5,1524.2 372.4,1524.8 374.3,1525.4 376.1,1526.1 378.0,1526.7 379.9,1527.3 381.8,1528.0 383.7,1528.6 385.5,1529.3 387.4,1530.0 389.3,1530.6 391.2,1531.3 393.0,1532.0 394.9,1532.7 396.8,1533.3 398.6,1534.0 400.5,1534.7 402.3,1535.4 404.2,1536.2 406.0,1536.9 407.9,1537.6 409.7,1538.3 411.6,1539.0 413.4,1539.8 415.3,1540.5 417.1,1541.3 418.9,1542.0 420.8,1542.8 422.6,1543.5 424.4,1544.3 426.3,1545.1 428.1,1545.9 429.9,1546.7 431.7,1547.5 433.6,1548.3 435.4,1549.1 437.2,1549.9 439.0,1550.7 440.8,1551.5 442.6,1552.4 444.4,1553.2 446.2,1554.0 448.0,1554.9 449.8,1555.7 451.6,1556.6 453.4,1557.5 455.2,1558.4 457.0,1559.2 458.8,1560.1 460.5,1561.0 462.3,1561.9 464.1,1562.8 465.9,1563.8 467.6,1564.7 469.4,1565.6 471.2,1566.5 472.9,1567.5 474.7,1568.4 476.5,1569.4 478.2,1570.3 480.0,1571.3 481.7,1572.3 483.5,1573.3 485.2,1574.3 486.9,1575.2 488.7,1576.2 490.4,1577.3 492.2,1578.3 493.9,1579.3 495.6,1580.3 497.3,1581.3 499.1,1582.4 500.8,1583.4 502.5,1584.5 504.2,1585.5 505.9,1586.6 507.6,1587.6 509.3,1588.7 511.0,1589.8 512.7,1590.9 514.4,1592.0 516.1,1593.0 517.8,1594.1 519.5,1595.2 521.1,1596.4 522.8,1597.5 524.5,1598.6 526.2,1599.7 527.8,1600.9 529.5,1602.0 531.2,1603.1 532.8,1604.3 534.5,1605.4 536.1,1606.6 537.8,1607.8 539.4,1608.9 541.1,1610.1 542.7,1611.3 544.3,1612.5 546.0,1613.7 547.6,1614.9 549.2,1616.1 550.8,1617.3 552.5,1618.5 554.1,1619.7 555.7,1620.9 557.3,1622.1 558.9,1623.4 560.5,1624.6 562.1,1625.8 563.7,1627.1 565.3,1628.3 566.8,1629.6 568.4,1630.8 570.0,1632.1 571.6,1633.4 573.1,1634.6 574.7,1635.9 576.3,1637.2 577.8,1638.5 579.4,1639.7 580.9,1641.0 582.5,1642.3 584.0,1643.6 585.6,1644.9 587.1,1646.3 588.6,1647.6 590.2,1648.9 591.7,1650.2 593.2,1651.5 594.7,1652.9 596.2,1654.2 597.7,1655.5 599.2,1656.9 600.7,1658.2 602.2,1659.6 603.7,1660.9 605.2,1662.3 606.7,1663.6 608.2,1665.0 609.6,1666.4 611.1,1667.7 612.6,1669.1 614.0,1670.5 615.5,1671.9 616.9,1673.3 618.4,1674.6 619.8,1676.0 621.3,1677.4 622.7,1678.8 624.1,1680.2 625.6,1681.6 627.0,1683.0 628.4,1684.5 629.8,1685.9 631.2,1687.3 632.6,1688.7 634.0,1690.1 635.4,1691.6 636.8,1693.0 638.2,1694.4 639.6,1695.9 641.0,1697.3 642.3,1698.7 643.7,1700.2 645.1,1701.6 646.4,1703.1 647.8,1704.5 649.1,1706.0 650.5,1707.5 651.8,1708.9 653.1,1710.4 654.5,1711.9 655.8,1713.3 657.1,1714.8 658.4,1716.3 659.7,1717.7 661.0,1719.2 662.3,1720.7 663.6,1722.2 664.9,1723.7 666.2,1725.2 667.5,1726.7 668.8,1728.2 670.1,1729.7 671.3,1731.2 672.6,1732.7 673.9,1734.2 675.1,1735.7 676.4,1737.2 677.6,1738.7 678.9,1740.2 680.1,1741.7 681.4,1743.2 682.6,1744.8 683.8,1746.3 685.1,1747.8 686.3,1749.3 687.5,1750.9 688.7,1752.4 689.9,1753.9 691.2,1755.5 692.4,1757.0 693.6,1758.6 694.8,1760.1 696.0,1761.7 697.2,1763.2 698.4,1764.8 699.6,1766.3 700.8,1767.9 701.9,1769.4 703.1,1771.0 704.3,1772.6 705.5,1774.1 706.7,1775.7 707.9,1777.3 709.0,1778.9 710.2,1780.4 711.4,1782.0 712.5,1783.6 713.7,1785.2 714.9,1786.8 716.0,1788.4 717.2,1790.0 718.3,1791.6 719.5,1793.2 720.7,1794.7 721.8,1796.4 723.0,1798.0 724.1,1799.6 725.3,1801.2 726.4,1802.8 727.5,1804.4 728.7,1806.0 729.8,1807.6 731.0,1809.2 732.1,1810.9 733.3,1812.5 734.4,1814.1 735.5,1815.8 736.7,1817.4 737.8,1819.0 738.9,1820.7 740.1,1822.3 741.2,1823.9 742.4,1825.6 743.5,1827.2 744.6,1828.9 745.8,1830.5 746.9,1832.2 748.0,1833.8 749.2,1835.5 750.3,1837.2 751.4,1838.8 752.5,1840.5 753.7,1842.1 754.8,1843.8 755.9,1845.5 757.1,1847.2 758.2,1848.8 759.3,1850.5 760.5,1852.2 761.6,1853.9 762.8,1855.6 763.9,1857.2 765.0,1858.9 766.2,1860.6 767.3,1862.3 768.4,1864.0 769.6,1865.7 770.7,1867.4 771.9,1869.1 773.0,1870.8 774.1,1872.5 775.3,1874.2 776.4,1876.0 777.6,1877.7 778.7,1879.4 779.9,1881.1 781.0,1882.8 782.2,1884.5 783.3,1886.3 784.5,1888.0 785.7,1889.7 786.8,1891.5 788.0,1893.2 789.2,1894.9 790.3,1896.7 791.5,1898.4 792.7,1900.1 793.8,1901.9 795.0,1903.6 796.2,1905.4 797.4,1907.1 798.5,1908.9 799.7,1910.6 800.9,1912.4 802.1,1914.1 803.3,1915.9 804.5,1917.6 805.7,1919.4 806.9,1921.1 808.1,1922.8 809.4,1924.5 810.6,1926.2 811.8,1927.9 813.1,1929.6 814.3,1931.3 815.5,1933.0 816.8,1934.6 818.1,1936.3 819.3,1937.9 820.6,1939.5 821.9,1941.1 823.2,1942.7 824.5,1944.2 825.8,1945.7 827.2,1947.3 828.5,1948.8 829.8,1950.2 831.2,1951.7 832.6,1953.1 833.9,1954.5 835.3,1955.9 836.7,1957.2 838.1,1958.6 839.5,1959.9 841.0,1961.1 842.4,1962.4 843.9,1963.6 845.3,1964.7 846.8,1965.9 848.3,1967.0 849.8,1968.1 851.4,1969.1 852.9,1970.1 854.5,1971.1 856.0,1972.0 857.6,1972.9 859.2,1973.7 860.8,1974.5 862.5,1975.3 864.1,1976.0 865.8,1976.7 867.5,1977.3 869.2,1977.9 870.9,1978.4 872.6,1978.9 874.4,1979.4 876.1,1979.8 877.9,1980.1 879.7,1980.4 881.6,1980.7 883.4,1980.9 885.3,1981.0 887.1,1981.1 889.0,1981.1 890.9,1981.1 892.8,1981.1 894.7,1981.0 896.7,1980.8 898.6,1980.6 900.5,1980.4 902.4,1980.1 904.4,1979.7 906.3,1979.3 908.2,1978.9 910.2,1978.4 912.1,1977.9 914.0,1977.3 915.9,1976.7 917.8,1976.1 919.7,1975.4 921.6,1974.6 923.5,1973.8 925.3,1973.0 927.1,1972.1 929.0,1971.2 930.8,1970.3 932.5,1969.3 934.3,1968.2 936.0,1967.2 937.7,1966.1 939.4,1964.9 941.1,1963.8 942.8,1962.6 944.4,1961.3 946.0,1960.1 947.6,1958.8 949.2,1957.5 950.8,1956.2 952.3,1954.8 953.9,1953.4 955.4,1952.1 956.9,1950.7 958.3,1949.2 959.8,1947.8 961.2,1946.4 962.6,1944.9 964.0,1943.5 965.4,1942.0 966.8,1940.5 968.1,1939.0 969.5,1937.5 970.8,1936.0 972.1,1934.4 973.4,1932.9 974.7,1931.4 976.0,1929.8 977.3,1928.3 978.5,1926.7 979.8,1925.1 981.0,1923.6 982.3,1922.0 983.5,1920.4 984.8,1918.8 986.0,1917.2 987.2,1915.6 988.4,1914.0 989.6,1912.4 990.9,1910.8 992.1,1909.2 993.3,1907.6 994.5,1906.0 995.7,1904.4 996.9,1902.9 998.2,1901.3 999.4,1899.7 1000.6,1898.1 1001.8,1896.5 1003.1,1894.9 1004.3,1893.3 1005.5,1891.7 1006.8,1890.2 1008.0,1888.6 1009.3,1887.0 1010.6,1885.5 1011.8,1883.9 1013.1,1882.3 1014.3,1880.8 1015.6,1879.2 1016.9,1877.7 1018.2,1876.1 1019.5,1874.6 1020.7,1873.0 1022.0,1871.5 1023.3,1870.0 1024.6,1868.4 1025.9,1866.9 1027.2,1865.4 1028.6,1863.9 1029.9,1862.4 1031.2,1860.8 1032.5,1859.3 1033.8,1857.8 1035.2,1856.3 1036.5,1854.8 1037.8,1853.3 1039.2,1851.8 1040.5,1850.3 1041.9,1848.9 1043.2,1847.4 1044.6,1845.9 1045.9,1844.4 1047.3,1843.0 1048.7,1841.5 1050.1,1840.0 1051.4,1838.6 1052.8,1837.1 1054.2,1835.7 1055.6,1834.2 1057.0,1832.8 1058.4,1831.3 1059.8,1829.9 1061.2,1828.5 1062.6,1827.0 1064.0,1825.6 1065.4,1824.2 1066.8,1822.8 1068.2,1821.4 1069.7,1819.9 1071.1,1818.5 1072.5,1817.1 1073.9,1815.8 1075.4,1814.4 1076.8,1813.0 1078.3,1811.6 1079.7,1810.2 1081.2,1808.8 1082.6,1807.5 1084.1,1806.1 1085.6,1804.7 1087.0,1803.4 1088.5,1802.0 1090.0,1800.7 1091.5,1799.3 1093.0,1798.0 1094.4,1796.7 1095.9,1795.3 1097.4,1794.0 1098.9,1792.7 1100.4,1791.4 1101.9,1790.1 1103.4,1788.8 1105.0,1787.4 1106.5,1786.1 1108.0,1784.9 1109.5,1783.6 1111.0,1782.3 1112.6,1781.0 1114.1,1779.7 1115.7,1778.5 1117.2,1777.2 1118.7,1775.9 1120.3,1774.7 1121.8,1773.4 1123.4,1772.2 1125.0,1770.9 1126.5,1769.7 1128.1,1768.5 1129.7,1767.3 1131.2,1766.0 1132.8,1764.8 1134.4,1763.6 1136.0,1762.4 1137.6,1761.2 1139.2,1760.0 1140.8,1758.8 1142.4,1757.6 1144.0,1756.4 1145.6,1755.3 1147.2,1754.1 1148.8,1752.9 1150.4,1751.8 1152.0,1750.6 1153.7,1749.4 1155.3,1748.3 1156.9,1747.2 1158.5,1746.0 1160.2,1744.9 1161.8,1743.8 1163.5,1742.6 1165.1,1741.5 1166.8,1740.4 1168.4,1739.3 1170.1,1738.2 1171.7,1737.1 1173.4,1736.0 1175.1,1734.9 1176.7,1733.8 1178.4,1732.7 1180.1,1731.6 1181.7,1730.6 1183.4,1729.5 1185.1,1728.4 1186.8,1727.4 1188.5,1726.3 1190.2,1725.3 1191.9,1724.2 1193.6,1723.2 1195.3,1722.1 1197.0,1721.1 1198.7,1720.1 1200.4,1719.1 1202.1,1718.0 1203.8,1717.0 1205.5,1716.0 1207.3,1715.0 1209.0,1714.0 1210.7,1713.0 1212.4,1712.0 1214.2,1711.0 1215.9,1710.0 1217.6,1709.1 1219.4,1708.1 1221.1,1707.1 1222.9,1706.2 1224.6,1705.2 1226.4,1704.2 1228.1,1703.3 1229.9,1702.3 1231.6,1701.4 1233.4,1700.5 1235.1,1699.5 1236.9,1698.6 1238.7,1697.7 1240.4,1696.8 1242.2,1695.8 1244.0,1694.9 1245.8,1694.0 1247.6,1693.1 1249.3,1692.2 1251.1,1691.3 1252.9,1690.4 1254.7,1689.5 1256.5,1688.7 1258.3,1687.8 1260.1,1686.9 1261.9,1686.0 1263.7,1685.2 1265.5,1684.3 1267.3,1683.4 1269.1,1682.6 1270.9,1681.7 1272.7,1680.9 1274.5,1680.1 1276.3,1679.2 1278.2,1678.4 1280.0,1677.6 1281.8,1676.7 1283.6,1675.9 1285.5,1675.1 1287.3,1674.3 1289.1,1673.5 1291.0,1672.7 1292.8,1671.9 1294.6,1671.1 1296.5,1670.3 1298.3,1669.5 1300.1,1668.7 1302.0,1668.0 1303.8,1667.2 1305.7,1666.4 1307.5,1665.6 1309.4,1664.9 1311.2,1664.1 1313.1,1663.4 1315.0,1662.6 1316.8,1661.9 1318.7,1661.1 1320.5,1660.4 1322.4,1659.7 1324.3,1658.9 1326.1,1658.2 1328.0,1657.5 1329.9,1656.8 1331.7,1656.1 1333.6,1655.3 1335.5,1654.6 1337.4,1653.9 1339.3,1653.2 1341.1,1652.5 1343.0,1651.9 1344.9,1651.2 1346.8,1650.5 1348.7,1649.8 1350.6,1649.1 1352.5,1648.5 1354.3,1647.8 1356.2,1647.1 1358.1,1646.5 1360.0,1645.8 1361.9,1645.2 1363.8,1644.5 1365.7,1643.9 1367.6,1643.2 1369.5,1642.6 1371.4,1642.0 1373.3,1641.3 1375.2,1640.7 1377.2,1640.1 1379.1,1639.5 1381.0,1638.9 1382.9,1638.2 1384.8,1637.6 1386.7,1637.0 1388.6,1636.4 1390.5,1635.8 1392.5,1635.2 1394.4,1634.7 1396.3,1634.1 1398.2,1633.5 1400.1,1632.9 1402.1,1632.3 1404.0,1631.8 1405.9,1631.2 1407.8,1630.6 1409.8,1630.1 1411.7,1629.5 1413.6,1629.0 1415.5,1628.4 1417.5,1627.9 1419.4,1627.3 1421.3,1626.8 1423.3,1626.3 1425.2,1625.7 1427.1,1625.2 1429.1,1624.7 1431.0,1624.2 1432.9,1623.7 1434.9,1623.1 1436.8,1622.6 1438.8,1622.1 1440.7,1621.6 1442.6,1621.1 1444.6,1620.6 1446.5,1620.1 1448.5,1619.6 1450.4,1619.2 1452.3,1618.7 1454.3,1618.2 1456.2,1617.7 1458.2,1617.3 1460.1,1616.8 1462.1,1616.3 1464.0,1615.9 1466.0,1615.4 1467.9,1615.0 1469.9,1614.5 1471.8,1614.1 1473.8,1613.6 1475.7,1613.2 1477.7,1612.7 1479.6,1612.3 1481.6,1611.9 1483.5,1611.4 1485.5,1611.0 1487.4,1610.6 1489.4,1610.2 1491.3,1609.8 1493.3,1609.3 1495.2,1608.9 1497.2,1608.5 1499.1,1608.1 1501.1,1607.7 1503.0,1607.3 1505.0,1606.9 1507.0,1606.6 1508.9,1606.2 1510.9,1605.8 1512.8,1605.4 1514.8,1605.0 1516.7,1604.7 1518.7,1604.3 1520.6,1603.9 1522.6,1603.6 1524.5,1603.2 1526.5,1602.8 1528.5,1602.5 1530.4,1602.1 1532.4,1601.8 1534.3,1601.5 1536.3,1601.1 1538.2,1600.8 1540.2,1600.4 1542.1,1600.1 1544.1,1599.8 1546.0,1599.5 1548.0,1599.1 1549.9,1598.8 1551.9,1598.5 1553.9,1598.2" stroke="#00b050" stroke-dasharray="43.5 20.5 12.3 20.5"/>
<path d="M271.8,1562.1L273.8,1562.4 275.8,1562.7 277.8,1563.0 279.8,1563.3 281.8,1563.6 283.8,1563.9 285.8,1564.2 287.8,1564.5 289.8,1564.8 291.7,1565.2 293.7,1565.5 295.7,1565.8 297.7,1566.2 299.7,1566.5 301.6,1566.9 303.6,1567.3 305.6,1567.6 307.5,1568.0 309.5,1568.4 311.5,1568.8 313.4,1569.2 315.4,1569.6 317.4,1570.0 319.3,1570.4 321.3,1570.8 323.2,1571.3 325.2,1571.7 327.1,1572.1 329.1,1572.6 331.1,1573.0 333.0,1573.5 334.9,1574.0 336.9,1574.4 338.8,1574.9 340.8,1575.4 342.7,1575.9 344.7,1576.3 346.6,1576.8 348.5,1577.3 350.5,1577.8 352.4,1578.4 354.3,1578.9 356.2,1579.4 358.2,1579.9 360.1,1580.5 362.0,1581.0 363.9,1581.5 365.8,1582.1 367.8,1582.7 369.7,1583.2 371.6,1583.8 373.5,1584.4 375.4,1584.9 377.3,1585.5 379.2,1586.1 381.1,1586.7 383.0,1587.3 384.9,1587.9 386.8,1588.5 388.7,1589.1 390.6,1589.8 392.5,1590.4 394.4,1591.0 396.3,1591.7 398.2,1592.3 400.1,1592.9 401.9,1593.6 403.8,1594.3 405.7,1594.9 407.6,1595.6 409.5,1596.3 411.3,1596.9 413.2,1597.6 415.1,1598.3 416.9,1599.0 418.8,1599.7 420.7,1600.4 422.5,1601.1 424.4,1601.8 426.2,1602.6 428.1,1603.3 429.9,1604.0 431.8,1604.8 433.6,1605.5 435.5,1606.3 437.3,1607.0 439.2,1607.8 441.0,1608.5 442.9,1609.3 444.7,1610.1 446.5,1610.8 448.4,1611.6 450.2,1612.4 452.0,1613.2 453.9,1614.0 455.7,1614.8 457.5,1615.6 459.3,1616.4 461.1,1617.2 463.0,1618.0 464.8,1618.9 466.6,1619.7 468.4,1620.5 470.2,1621.4 472.0,1622.2 473.8,1623.1 475.6,1623.9 477.4,1624.8 479.2,1625.6 481.0,1626.5 482.8,1627.4 484.6,1628.3 486.4,1629.1 488.2,1630.0 489.9,1630.9 491.7,1631.8 493.5,1632.7 495.3,1633.6 497.0,1634.5 498.8,1635.4 500.6,1636.4 502.4,1637.3 504.1,1638.2 505.9,1639.2 507.6,1640.1 509.4,1641.0 511.2,1642.0 512.9,1642.9 514.7,1643.9 516.4,1644.8 518.2,1645.8 519.9,1646.8 521.7,1647.7 523.4,1648.7 525.1,1649.7 526.9,1650.7 528.6,1651.7 530.3,1652.7 532.1,1653.7 533.8,1654.7 535.5,1655.7 537.2,1656.7 539.0,1657.7 540.7,1658.7 542.4,1659.8 544.1,1660.8 545.8,1661.8 547.5,1662.9 549.2,1663.9 550.9,1664.9 552.6,1666.0 554.3,1667.1 556.0,1668.1 557.7,1669.2 559.4,1670.2 561.1,1671.3 562.8,1672.4 564.5,1673.5 566.1,1674.5 567.8,1675.6 569.5,1676.7 571.2,1677.8 572.8,1678.9 574.5,1680.0 576.2,1681.1 577.8,1682.2 579.5,1683.4 581.2,1684.5 582.8,1685.6 584.5,1686.7 586.1,1687.9 587.8,1689.0 589.4,1690.1 591.0,1691.3 592.7,1692.4 594.3,1693.6 596.0,1694.7 597.6,1695.9 599.2,1697.0 600.9,1698.2 602.5,1699.4 604.1,1700.5 605.7,1701.7 607.3,1702.9 609.0,1704.1 610.6,1705.3 612.2,1706.5 613.8,1707.7 615.4,1708.9 617.0,1710.1 618.6,1711.3 620.2,1712.5 621.8,1713.7 623.4,1714.9 625.0,1716.1 626.5,1717.4 628.1,1718.6 629.7,1719.8 631.3,1721.0 632.9,1722.3 634.4,1723.5 636.0,1724.8 637.6,1726.0 639.1,1727.3 640.7,1728.5 642.2,1729.8 643.8,1731.1 645.4,1732.3 646.9,1733.6 648.4,1734.9 650.0,1736.1 651.5,1737.4 653.1,1738.7 654.6,1740.0 656.1,1741.3 657.7,1742.6 659.2,1743.9 660.7,1745.2 662.2,1746.5 663.8,1747.8 665.3,1749.1 666.8,1750.4 668.3,1751.7 669.8,1753.0 671.3,1754.4 672.8,1755.7 674.3,1757.0 675.8,1758.3 677.3,1759.7 678.8,1761.0 680.3,1762.4 681.8,1763.7 683.3,1765.0 684.7,1766.4 686.2,1767.7 687.7,1769.1 689.2,1770.5 690.6,1771.8 692.1,1773.2 693.5,1774.6 695.0,1775.9 696.5,1777.3 697.9,1778.7 699.4,1780.1 700.8,1781.4 702.3,1782.8 703.7,1784.2 705.1,1785.6 706.6,1787.0 708.0,1788.4 709.4,1789.8 710.9,1791.2 712.3,1792.6 713.7,1794.0 715.1,1795.4 716.5,1796.9 717.9,1798.3 719.3,1799.7 720.8,1801.1 722.2,1802.5 723.6,1804.0 724.9,1805.4 726.3,1806.8 727.7,1808.3 729.1,1809.7 730.5,1811.2 731.9,1812.6 733.3,1814.0 734.6,1815.5 736.0,1817.0 737.4,1818.4 738.7,1819.9 740.1,1821.3 741.4,1822.8 742.8,1824.3 744.2,1825.7 745.5,1827.2 746.9,1828.7 748.2,1830.1 749.5,1831.6 750.9,1833.1 752.2,1834.6 753.5,1836.1 754.9,1837.6 756.2,1839.1 757.5,1840.6 758.8,1842.1 760.1,1843.6 761.4,1845.1 762.8,1846.6 764.1,1848.1 765.4,1849.6 766.7,1851.1 768.0,1852.6 769.2,1854.1 770.5,1855.7 771.8,1857.2 773.1,1858.7 774.4,1860.2 775.7,1861.8 776.9,1863.3 778.2,1864.8 779.5,1866.4 780.7,1867.9 782.0,1869.5 783.2,1871.0 784.5,1872.6 785.7,1874.1 787.0,1875.7 788.2,1877.2 789.5,1878.8 790.7,1880.3 792.0,1881.9 793.2,1883.5 794.4,1885.0 795.6,1886.6 796.9,1888.2 798.1,1889.8 799.3,1891.3 800.5,1892.9 801.7,1894.5 802.9,1896.1 804.1,1897.7 805.3,1899.3 806.5,1900.9 807.7,1902.5 808.9,1904.1 810.1,1905.7 811.2,1907.3 812.4,1908.9 813.6,1910.5 814.8,1912.1 815.9,1913.7 817.1,1915.3 818.3,1917.0 819.4,1918.6 820.6,1920.2 821.7,1921.8 822.9,1923.4 824.0,1925.1 825.2,1926.7 826.3,1928.3 827.4,1930.0 828.6,1931.6 829.7,1933.3 830.8,1934.9 831.9,1936.6 833.1,1938.2 834.2,1939.9 835.3,1941.5 836.4,1943.2 837.5,1944.8 838.6,1946.5 839.7,1948.2 840.8,1949.8 841.9,1951.5 843.0,1953.2 844.1,1954.8 845.1,1956.5 846.2,1958.2 847.3,1959.9 848.4,1961.6 849.4,1963.2 850.5,1964.9 851.5,1966.6 852.6,1968.3 853.6,1970.0 854.7,1971.7 855.7,1973.4 856.8,1975.1 857.8,1976.8 858.9,1978.5 859.9,1980.2 860.9,1981.9 861.9,1983.6 863.0,1985.4 864.0,1987.1 865.0,1988.8 866.0,1990.5 867.0,1992.2 868.0,1994.0 869.0,1995.7 870.0,1997.4 871.0,1999.2 872.0,2000.9 873.0,2002.6 874.0,2004.4 875.0,2006.1 875.9,2007.9 876.9,2009.6 877.9,2011.4 878.8,2013.1 879.8,2014.9 880.8,2016.6 881.7,2018.4 882.7,2020.1 883.6,2021.9 884.6,2023.7 885.5,2025.4 886.4,2027.2 887.4,2029.0 888.3,2030.7 889.2,2032.5 890.1,2034.3 891.1,2036.1 892.0,2037.8 892.9,2039.6 893.8,2041.4 894.7,2043.2 895.6,2045.0 896.5,2046.8 897.4,2048.6 898.3,2050.4 899.1,2052.2 900.0,2054.0 900.9,2055.8 901.8,2057.6 902.6,2059.4 903.5,2061.2 904.4,2063.0 905.2,2064.8 906.1,2066.6 906.9,2068.4 907.8,2070.3 908.6,2072.1 909.4,2073.9 910.3,2075.7 911.1,2077.5 911.9,2079.4 912.7,2081.2 913.5,2083.0 914.3,2084.9 915.1,2086.7 915.9,2088.5 916.7,2090.4 917.5,2092.2 918.3,2094.1 919.1,2095.9 919.9,2097.8 920.6,2099.6 921.4,2101.5 922.2,2103.3 922.9,2105.2 923.7,2107.0 924.4,2108.9 925.2,2110.8 925.9,2112.6 926.6,2114.5 927.4,2116.4 928.1,2118.2 928.8,2120.1 929.5,2122.0 930.3,2123.8 931.0,2125.7 931.7,2127.6 932.4,2129.5 933.0,2131.4 933.7,2133.2 934.4,2135.1 935.1,2137.0 935.8,2138.9 936.4,2140.8 937.1,2142.7 937.8,2144.6 938.4,2146.5 939.1,2148.4 939.8,2150.3 940.4,2152.1 941.1,2154.0 941.7,2155.9 942.4,2157.8 943.0,2159.7 943.6,2161.6 944.3,2163.5 944.9,2165.4 945.6,2167.3 946.2,2169.2 946.8,2171.1 947.5,2172.9 948.1,2174.8 948.8,2176.7 949.4,2178.6 950.1,2180.5 950.7,2182.4 951.3,2184.2 952.0,2186.1 952.6,2188.0 953.3,2189.9 953.9,2191.7 954.6,2193.6 955.2,2195.4 955.9,2197.3 956.6,2199.2 957.2,2201.0 957.9,2202.9 958.5,2204.7 959.2,2206.6 959.9,2208.4 960.5,2210.3 961.2,2212.1 961.9,2214.0 962.5,2215.8 963.2,2217.6 963.9,2219.5 964.5,2221.3 965.2,2223.2 965.9,2225.1 966.5,2226.9 967.2,2228.8 967.8,2230.6 968.5,2232.5 969.1,2234.4 969.8,2236.2 970.4,2238.1 971.1,2240.0 971.7,2241.9 972.3,2243.8 972.9,2245.7 973.6,2247.6 974.2,2249.5 974.8,2251.4 975.4,2253.3 976.0,2255.3 976.6,2257.2 977.2,2259.2 977.8,2261.1 978.4,2263.1 979.0,2265.0 979.6,2267.0 980.2,2268.9 980.8,2270.9 981.4,2272.9 982.0,2274.8 982.7,2276.8 983.3,2278.8 984.0,2280.7 984.7,2282.7 985.3,2284.6 986.1,2286.6 986.8,2288.6 987.5,2290.5 988.3,2292.5 989.1,2294.4 989.9,2296.4 990.7,2298.3 991.6,2300.2 992.5,2302.1 993.4,2304.1 994.3,2306.0 995.3,2307.9 996.3,2309.8 997.4,2311.7 998.4,2313.5 999.5,2315.4 1000.7,2317.2 1001.9,2319.0 1003.1,2320.8 1004.3,2322.5 1005.6,2324.2 1006.9,2325.7 1008.3,2327.2 1009.7,2328.6 1011.1,2329.9 1012.6,2331.1 1014.1,2332.2 1015.6,2333.1 1017.2,2333.9 1018.8,2334.6 1020.5,2335.1 1022.2,2335.4 1023.9,2335.6 1025.7,2335.5 1027.4,2335.4 1029.2,2335.0 1031.1,2334.6 1032.9,2334.0 1034.7,2333.3 1036.5,2332.4 1038.3,2331.5 1040.1,2330.5 1041.9,2329.4 1043.6,2328.3 1045.3,2327.1 1047.0,2325.8 1048.6,2324.5 1050.2,2323.2 1051.7,2321.8 1053.2,2320.4 1054.7,2319.0 1056.1,2317.5 1057.4,2316.0 1058.8,2314.5 1060.1,2312.9 1061.3,2311.4 1062.6,2309.8 1063.8,2308.1 1064.9,2306.5 1066.1,2304.8 1067.2,2303.1 1068.2,2301.4 1069.3,2299.7 1070.3,2297.9 1071.3,2296.1 1072.3,2294.4 1073.3,2292.6 1074.3,2290.8 1075.2,2288.9 1076.1,2287.1 1077.0,2285.3 1077.9,2283.4 1078.8,2281.6 1079.7,2279.7 1080.6,2277.9 1081.4,2276.0 1082.3,2274.1 1083.2,2272.3 1084.0,2270.4 1084.9,2268.5 1085.7,2266.7 1086.6,2264.8 1087.4,2262.9 1088.3,2261.1 1089.1,2259.2 1090.0,2257.4 1090.8,2255.5 1091.7,2253.6 1092.5,2251.8 1093.3,2249.9 1094.2,2248.1 1095.0,2246.2 1095.9,2244.4 1096.7,2242.5 1097.5,2240.6 1098.4,2238.8 1099.2,2236.9 1100.1,2235.1 1100.9,2233.2 1101.7,2231.4 1102.6,2229.6 1103.4,2227.7 1104.2,2225.9 1105.1,2224.0 1105.9,2222.2 1106.7,2220.3 1107.6,2218.5 1108.4,2216.7 1109.2,2214.8 1110.1,2213.0 1110.9,2211.2 1111.7,2209.3 1112.6,2207.5 1113.4,2205.7 1114.2,2203.8 1115.1,2202.0 1115.9,2200.2 1116.7,2198.3 1117.6,2196.5 1118.4,2194.7 1119.3,2192.9 1120.1,2191.1 1120.9,2189.2 1121.8,2187.4 1122.6,2185.6 1123.4,2183.8 1124.3,2182.0 1125.1,2180.1 1126.0,2178.3 1126.8,2176.5 1127.7,2174.7 1128.5,2172.9 1129.4,2171.1 1130.2,2169.3 1131.0,2167.5 1131.9,2165.7 1132.7,2163.9 1133.6,2162.1 1134.5,2160.3 1135.3,2158.5 1136.2,2156.7 1137.0,2154.9 1137.9,2153.1 1138.7,2151.3 1139.6,2149.5 1140.5,2147.7 1141.3,2145.9 1142.2,2144.2 1143.1,2142.4 1143.9,2140.6 1144.8,2138.8 1145.7,2137.0 1146.6,2135.3 1147.4,2133.5 1148.3,2131.7 1149.2,2129.9 1150.1,2128.2 1151.0,2126.4 1151.9,2124.6 1152.8,2122.9 1153.7,2121.1 1154.6,2119.3 1155.5,2117.6 1156.4,2115.8 1157.3,2114.0 1158.2,2112.3 1159.1,2110.5 1160.0,2108.8 1160.9,2107.0 1161.8,2105.3 1162.7,2103.5 1163.7,2101.8 1164.6,2100.0 1165.5,2098.3 1166.5,2096.5 1167.4,2094.8 1168.3,2093.1 1169.3,2091.3 1170.2,2089.6 1171.2,2087.9 1172.1,2086.1 1173.1,2084.4 1174.0,2082.7 1175.0,2080.9 1176.0,2079.2 1176.9,2077.5 1177.9,2075.8 1178.9,2074.1 1179.9,2072.3 1180.8,2070.6 1181.8,2068.9 1182.8,2067.2 1183.8,2065.5 1184.8,2063.8 1185.8,2062.1 1186.8,2060.4 1187.8,2058.7 1188.9,2057.0 1189.9,2055.3 1190.9,2053.6 1191.9,2051.9 1193.0,2050.2 1194.0,2048.5 1195.0,2046.8 1196.1,2045.1 1197.1,2043.4 1198.2,2041.8 1199.2,2040.1 1200.3,2038.4 1201.4,2036.7 1202.4,2035.0 1203.5,2033.4 1204.6,2031.7 1205.7,2030.0 1206.8,2028.4 1207.9,2026.7 1209.0,2025.0 1210.1,2023.4 1211.2,2021.7 1212.3,2020.1 1213.4,2018.4 1214.5,2016.8 1215.7,2015.1 1216.8,2013.5 1217.9,2011.8 1219.1,2010.2 1220.2,2008.6 1221.4,2006.9 1222.5,2005.3 1223.7,2003.7 1224.8,2002.0 1226.0,2000.4 1227.2,1998.8 1228.3,1997.2 1229.5,1995.6 1230.7,1993.9 1231.9,1992.3 1233.1,1990.7 1234.3,1989.1 1235.5,1987.5 1236.7,1985.9 1237.9,1984.3 1239.1,1982.7 1240.3,1981.1 1241.5,1979.5 1242.8,1978.0 1244.0,1976.4 1245.2,1974.8 1246.5,1973.2 1247.7,1971.6 1249.0,1970.1 1250.2,1968.5 1251.5,1966.9 1252.7,1965.4 1254.0,1963.8 1255.3,1962.3 1256.5,1960.7 1257.8,1959.2 1259.1,1957.6 1260.4,1956.1 1261.7,1954.5 1263.0,1953.0 1264.3,1951.5 1265.6,1949.9 1266.9,1948.4 1268.2,1946.9 1269.5,1945.4 1270.8,1943.8 1272.1,1942.3 1273.5,1940.8 1274.8,1939.3 1276.1,1937.8 1277.5,1936.3 1278.8,1934.8 1280.1,1933.3 1281.5,1931.8 1282.9,1930.3 1284.2,1928.9 1285.6,1927.4 1286.9,1925.9 1288.3,1924.4 1289.7,1923.0 1291.1,1921.5 1292.4,1920.1 1293.8,1918.6 1295.2,1917.2 1296.6,1915.7 1298.0,1914.3 1299.4,1912.8 1300.8,1911.4 1302.2,1910.0 1303.6,1908.5 1305.1,1907.1 1306.5,1905.7 1307.9,1904.3 1309.3,1902.9 1310.8,1901.5 1312.2,1900.1 1313.7,1898.7 1315.1,1897.3 1316.5,1895.9 1318.0,1894.5 1319.5,1893.1 1320.9,1891.7 1322.4,1890.3 1323.8,1889.0 1325.3,1887.6 1326.8,1886.3 1328.3,1884.9 1329.8,1883.5 1331.2,1882.2 1332.7,1880.9 1334.2,1879.5 1335.7,1878.2 1337.2,1876.9 1338.7,1875.5 1340.2,1874.2 1341.7,1872.9 1343.3,1871.6 1344.8,1870.3 1346.3,1869.0 1347.8,1867.7 1349.4,1866.4 1350.9,1865.1 1352.4,1863.8 1354.0,1862.5 1355.5,1861.3 1357.1,1860.0 1358.6,1858.7 1360.2,1857.5 1361.7,1856.2 1363.3,1855.0 1364.9,1853.7 1366.4,1852.5 1368.0,1851.2 1369.6,1850.0 1371.2,1848.8 1372.8,1847.6 1374.3,1846.4 1375.9,1845.2 1377.5,1843.9 1379.1,1842.7 1380.7,1841.6 1382.3,1840.4 1383.9,1839.2 1385.6,1838.0 1387.2,1836.8 1388.8,1835.7 1390.4,1834.5 1392.0,1833.3 1393.7,1832.2 1395.3,1831.0 1396.9,1829.9 1398.6,1828.8 1400.2,1827.6 1401.9,1826.5 1403.5,1825.4 1405.2,1824.3 1406.8,1823.2 1408.5,1822.1 1410.1,1821.0 1411.8,1819.9 1413.5,1818.8 1415.2,1817.7 1416.8,1816.6 1418.5,1815.6 1420.2,1814.5 1421.9,1813.5 1423.6,1812.4 1425.3,1811.4 1427.0,1810.3 1428.7,1809.3 1430.4,1808.3 1432.1,1807.2 1433.8,1806.2 1435.5,1805.2 1437.2,1804.2 1438.9,1803.2 1440.6,1802.2 1442.4,1801.2 1444.1,1800.3 1445.8,1799.3 1447.6,1798.3 1449.3,1797.4 1451.0,1796.4 1452.8,1795.4 1454.5,1794.5 1456.3,1793.6 1458.0,1792.6 1459.8,1791.7 1461.5,1790.8 1463.3,1789.9 1465.1,1789.0 1466.8,1788.1 1468.6,1787.2 1470.4,1786.3 1472.2,1785.4 1473.9,1784.5 1475.7,1783.7 1477.5,1782.8 1479.3,1782.0 1481.1,1781.1 1482.9,1780.3 1484.7,1779.4 1486.5,1778.6 1488.3,1777.8 1490.1,1777.0 1491.9,1776.2 1493.7,1775.4 1495.5,1774.6 1497.4,1773.8 1499.2,1773.0 1501.0,1772.2 1502.8,1771.5 1504.7,1770.7 1506.5,1770.0 1508.3,1769.2 1510.2,1768.5 1512.0,1767.7 1513.9,1767.0 1515.7,1766.3 1517.6,1765.6 1519.4,1764.9 1521.3,1764.2 1523.1,1763.5 1525.0,1762.8 1526.9,1762.1 1528.7,1761.5 1530.6,1760.8 1532.5,1760.1 1534.3,1759.5 1536.2,1758.9 1538.1,1758.2 1540.0,1757.6 1541.9,1757.0 1543.8,1756.4 1545.7,1755.8 1547.5,1755.2 1549.4,1754.6 1551.3,1754.0 1553.2,1753.4" stroke="#000000" stroke-dasharray="22.5 10.5"/>
<path d="M272.5,1603.2L274.4,1603.5 276.3,1603.7 278.2,1604.0 280.2,1604.2 282.1,1604.5 284.0,1604.8 286.0,1605.0 287.9,1605.3 289.8,1605.6 291.8,1605.9 293.7,1606.2 295.6,1606.5 297.6,1606.8 299.5,1607.1 301.5,1607.4 303.4,1607.7 305.4,1608.0 307.3,1608.3 309.2,1608.7 311.2,1609.0 313.1,1609.3 315.1,1609.7 317.0,1610.0 319.0,1610.4 320.9,1610.7 322.9,1611.1 324.8,1611.4 326.8,1611.8 328.8,1612.2 330.7,1612.5 332.7,1612.9 334.6,1613.3 336.6,1613.7 338.5,1614.1 340.5,1614.5 342.4,1614.9 344.4,1615.3 346.3,1615.7 348.3,1616.1 350.3,1616.5 352.2,1616.9 354.2,1617.3 356.1,1617.8 358.1,1618.2 360.0,1618.7 362.0,1619.1 363.9,1619.6 365.9,1620.0 367.9,1620.5 369.8,1620.9 371.8,1621.4 373.7,1621.9 375.7,1622.4 377.6,1622.8 379.6,1623.3 381.5,1623.8 383.5,1624.3 385.4,1624.8 387.4,1625.3 389.3,1625.9 391.3,1626.4 393.2,1626.9 395.2,1627.4 397.1,1628.0 399.0,1628.5 401.0,1629.0 402.9,1629.6 404.9,1630.1 406.8,1630.7 408.7,1631.3 410.7,1631.8 412.6,1632.4 414.5,1633.0 416.5,1633.6 418.4,1634.2 420.3,1634.8 422.3,1635.4 424.2,1636.0 426.1,1636.6 428.0,1637.2 430.0,1637.8 431.9,1638.5 433.8,1639.1 435.7,1639.7 437.6,1640.4 439.5,1641.0 441.4,1641.7 443.4,1642.3 445.3,1643.0 447.2,1643.7 449.1,1644.4 451.0,1645.0 452.9,1645.7 454.7,1646.4 456.6,1647.1 458.5,1647.8 460.4,1648.5 462.3,1649.3 464.2,1650.0 466.1,1650.7 467.9,1651.4 469.8,1652.2 471.7,1652.9 473.6,1653.7 475.4,1654.4 477.3,1655.2 479.1,1656.0 481.0,1656.7 482.9,1657.5 484.7,1658.3 486.6,1659.1 488.4,1659.9 490.3,1660.7 492.1,1661.5 493.9,1662.3 495.8,1663.1 497.6,1664.0 499.4,1664.8 501.2,1665.6 503.1,1666.5 504.9,1667.3 506.7,1668.2 508.5,1669.1 510.3,1669.9 512.1,1670.8 513.9,1671.7 515.7,1672.6 517.5,1673.5 519.3,1674.4 521.1,1675.3 522.8,1676.2 524.6,1677.1 526.4,1678.0 528.2,1679.0 529.9,1679.9 531.7,1680.9 533.4,1681.8 535.2,1682.8 536.9,1683.7 538.7,1684.7 540.4,1685.7 542.2,1686.7 543.9,1687.6 545.6,1688.6 547.3,1689.6 549.1,1690.7 550.8,1691.7 552.5,1692.7 554.2,1693.7 555.9,1694.8 557.6,1695.8 559.3,1696.8 560.9,1697.9 562.6,1699.0 564.3,1700.0 566.0,1701.1 567.6,1702.2 569.3,1703.3 570.9,1704.4 572.6,1705.5 574.2,1706.6 575.9,1707.7 577.5,1708.8 579.1,1710.0 580.8,1711.1 582.4,1712.2 584.0,1713.4 585.6,1714.6 587.2,1715.7 588.8,1716.9 590.4,1718.1 592.0,1719.2 593.6,1720.4 595.1,1721.6 596.7,1722.8 598.3,1724.1 599.8,1725.3 601.4,1726.5 602.9,1727.7 604.5,1729.0 606.0,1730.2 607.5,1731.5 609.1,1732.7 610.6,1734.0 612.1,1735.2 613.6,1736.5 615.1,1737.8 616.6,1739.1 618.1,1740.4 619.6,1741.7 621.1,1743.0 622.6,1744.3 624.1,1745.6 625.5,1746.9 627.0,1748.3 628.5,1749.6 629.9,1750.9 631.4,1752.3 632.8,1753.6 634.3,1755.0 635.7,1756.3 637.1,1757.7 638.6,1759.1 640.0,1760.5 641.4,1761.9 642.8,1763.2 644.2,1764.6 645.6,1766.0 647.0,1767.5 648.4,1768.9 649.8,1770.3 651.2,1771.7 652.5,1773.1 653.9,1774.6 655.3,1776.0 656.6,1777.5 658.0,1778.9 659.3,1780.4 660.7,1781.8 662.0,1783.3 663.4,1784.8 664.7,1786.2 666.0,1787.7 667.4,1789.2 668.7,1790.7 670.0,1792.2 671.3,1793.7 672.6,1795.2 673.9,1796.7 675.2,1798.2 676.5,1799.7 677.8,1801.3 679.0,1802.8 680.3,1804.3 681.6,1805.9 682.8,1807.4 684.1,1809.0 685.3,1810.5 686.6,1812.1 687.8,1813.6 689.1,1815.2 690.3,1816.8 691.5,1818.3 692.8,1819.9 694.0,1821.5 695.2,1823.1 696.4,1824.7 697.6,1826.3 698.8,1827.9 700.0,1829.5 701.2,1831.1 702.4,1832.7 703.6,1834.3 704.8,1835.9 705.9,1837.6 707.1,1839.2 708.3,1840.8 709.4,1842.4 710.6,1844.1 711.7,1845.7 712.9,1847.4 714.0,1849.0 715.2,1850.7 716.3,1852.3 717.4,1854.0 718.6,1855.7 719.7,1857.3 720.8,1859.0 721.9,1860.7 723.0,1862.4 724.1,1864.0 725.2,1865.7 726.3,1867.4 727.4,1869.1 728.5,1870.8 729.5,1872.5 730.6,1874.2 731.7,1875.9 732.7,1877.6 733.8,1879.3 734.9,1881.1 735.9,1882.8 737.0,1884.5 738.0,1886.2 739.0,1887.9 740.1,1889.7 741.1,1891.4 742.1,1893.1 743.2,1894.9 744.2,1896.6 745.2,1898.4 746.2,1900.1 747.2,1901.9 748.2,1903.6 749.2,1905.4 750.2,1907.1 751.2,1908.9 752.1,1910.7 753.1,1912.4 754.1,1914.2 755.1,1916.0 756.0,1917.7 757.0,1919.5 757.9,1921.3 758.9,1923.1 759.8,1924.8 760.8,1926.6 761.7,1928.4 762.7,1930.2 763.6,1932.0 764.5,1933.8 765.4,1935.6 766.4,1937.4 767.3,1939.2 768.2,1941.0 769.1,1942.8 770.0,1944.6 770.9,1946.4 771.8,1948.2 772.7,1950.0 773.5,1951.8 774.4,1953.6 775.3,1955.5 776.2,1957.3 777.0,1959.1 777.9,1960.9 778.8,1962.7 779.6,1964.6 780.5,1966.4 781.3,1968.2 782.2,1970.0 783.0,1971.9 783.8,1973.7 784.7,1975.5 785.5,1977.4 786.3,1979.2 787.1,1981.1 787.9,1982.9 788.8,1984.7 789.6,1986.6 790.4,1988.4 791.2,1990.3 792.0,1992.1 792.8,1993.9 793.5,1995.8 794.3,1997.6 795.1,1999.5 795.9,2001.3 796.7,2003.2 797.4,2005.0 798.2,2006.9 798.9,2008.7 799.7,2010.6 800.5,2012.5 801.2,2014.3 801.9,2016.2 802.7,2018.0 803.4,2019.9 804.2,2021.7 804.9,2023.6 805.6,2025.5 806.3,2027.3 807.1,2029.2 807.8,2031.1 808.5,2032.9 809.2,2034.8 809.9,2036.7 810.6,2038.5 811.3,2040.4 812.0,2042.3 812.7,2044.1 813.4,2046.0 814.1,2047.9 814.7,2049.8 815.4,2051.6 816.1,2053.5 816.8,2055.4 817.4,2057.3 818.1,2059.1 818.8,2061.0 819.4,2062.9 820.1,2064.8 820.7,2066.7 821.4,2068.5 822.0,2070.4 822.7,2072.3 823.3,2074.2 823.9,2076.1 824.6,2078.0 825.2,2079.9 825.8,2081.7 826.4,2083.6 827.1,2085.5 827.7,2087.4 828.3,2089.3 828.9,2091.2 829.5,2093.1 830.1,2095.0 830.7,2096.9 831.3,2098.8 831.9,2100.7 832.5,2102.6 833.1,2104.5 833.7,2106.4 834.3,2108.3 834.9,2110.2 835.4,2112.1 836.0,2114.0 836.6,2115.9 837.2,2117.8 837.7,2119.7 838.3,2121.6 838.9,2123.5 839.4,2125.4 840.0,2127.3 840.5,2129.2 841.1,2131.1 841.6,2133.1 842.2,2135.0 842.7,2136.9 843.3,2138.8 843.8,2140.7 844.4,2142.6 844.9,2144.5 845.4,2146.4 846.0,2148.4 846.5,2150.3 847.0,2152.2 847.5,2154.1 848.1,2156.0 848.6,2158.0 849.1,2159.9 849.6,2161.8 850.1,2163.7 850.6,2165.6 851.1,2167.6 851.6,2169.5 852.2,2171.4 852.7,2173.3 853.2,2175.3 853.7,2177.2 854.1,2179.1 854.6,2181.0 855.1,2183.0 855.6,2184.9 856.1,2186.8 856.6,2188.8 857.1,2190.7 857.6,2192.6 858.0,2194.5 858.5,2196.5 859.0,2198.4 859.5,2200.3 859.9,2202.3 860.4,2204.2 860.9,2206.2 861.3,2208.1 861.8,2210.0 862.3,2212.0 862.7,2213.9 863.2,2215.8 863.7,2217.8 864.1,2219.7 864.6,2221.7 865.0,2223.6 865.5,2225.5 865.9,2227.5 866.4,2229.4 866.8,2231.4 867.3,2233.3 867.7,2235.3 868.2,2237.2 868.6,2239.1 869.0,2241.1 869.5,2243.0 869.9,2245.0 870.3,2246.9 870.8,2248.9 871.2,2250.8 871.6,2252.8 872.1,2254.7 872.5,2256.7 872.9,2258.6 873.4,2260.6 873.8,2262.5 874.2,2264.5 874.6,2266.4 875.1,2268.4 875.5,2270.3 875.9,2272.3 876.3,2274.2 876.7,2276.2 877.1,2278.1 877.6,2280.1 878.0,2282.1 878.4,2284.0 878.8,2286.0 879.2,2287.9 879.6,2289.9 880.0,2291.8 880.4,2293.8 880.8,2295.8 881.2,2297.7 881.7,2299.7 882.1,2301.6 882.5,2303.6 882.9,2305.5 883.3,2307.5 883.7,2309.5 884.1,2311.4 884.5,2313.4 884.9,2315.4 885.3,2317.3 885.7,2319.3 886.1,2321.2 886.5,2323.2 886.9,2325.2 887.3,2327.1 887.7,2329.1 888.1,2331.1 888.5,2333.0 888.9,2335.0 889.3,2337.0 889.7,2338.9 890.1,2340.9 890.5,2342.9 890.9,2344.8 891.4,2346.8 891.8,2348.8 892.2,2350.8 892.6,2352.7 893.0,2354.7 893.4,2356.7 893.9,2358.6 894.3,2360.6 894.7,2362.6 895.1,2364.6 895.6,2366.5 896.0,2368.5 896.4,2370.5 896.9,2372.4 897.3,2374.4 897.8,2376.4 898.2,2378.4 898.7,2380.3 899.1,2382.3 899.6,2384.3 900.0,2386.3 900.5,2388.3 901.0,2390.2 901.4,2392.2 901.9,2394.2 902.4,2396.2 902.9,2398.2 903.3,2400.1 903.8,2402.1 904.3,2404.1 904.8,2406.1 905.3,2408.1 905.9,2410.1 906.4,2412.2 906.9,2414.3 907.4,2416.4 908.0,2418.5 908.6,2420.7 909.1,2423.0 909.7,2425.3 910.3,2427.6 910.9,2429.8 911.5,2432.0 912.2,2433.9 912.8,2435.6 913.4,2436.9 914.1,2437.8 914.8,2438.2 915.4,2438.1 916.1,2437.5 916.8,2436.4 917.5,2434.9 918.2,2433.2 918.9,2431.2 919.6,2429.0 920.3,2426.7 920.9,2424.4 921.6,2422.2 922.3,2419.9 922.9,2417.7 923.5,2415.5 924.2,2413.4 924.8,2411.2 925.4,2409.1 926.0,2407.0 926.6,2404.9 927.2,2402.9 927.8,2400.8 928.3,2398.8 928.9,2396.7 929.4,2394.7 929.9,2392.7 930.5,2390.7 931.0,2388.6 931.5,2386.6 932.0,2384.6 932.5,2382.7 932.9,2380.7 933.4,2378.7 933.9,2376.7 934.3,2374.8 934.8,2372.8 935.2,2370.9 935.7,2368.9 936.1,2367.0 936.5,2365.0 936.9,2363.1 937.3,2361.1 937.7,2359.2 938.1,2357.3 938.5,2355.4 938.9,2353.4 939.3,2351.5 939.7,2349.6 940.1,2347.7 940.5,2345.8 940.9,2343.9 941.2,2342.0 941.6,2340.1 942.0,2338.2 942.4,2336.2 942.7,2334.3 943.1,2332.4 943.5,2330.5 943.9,2328.6 944.2,2326.7 944.6,2324.8 945.0,2322.9 945.3,2321.0 945.7,2319.1 946.1,2317.1 946.5,2315.2 946.8,2313.3 947.2,2311.4 947.6,2309.5 948.0,2307.5 948.4,2305.6 948.8,2303.7 949.2,2301.7 949.6,2299.8 950.0,2297.8 950.4,2295.9 950.8,2293.9 951.2,2291.9 951.7,2290.0 952.1,2288.0 952.5,2286.0 953.0,2284.1 953.4,2282.1 953.8,2280.1 954.3,2278.1 954.7,2276.1 955.2,2274.1 955.6,2272.2 956.1,2270.2 956.5,2268.2 956.9,2266.2 957.4,2264.2 957.8,2262.2 958.3,2260.2 958.7,2258.2 959.2,2256.3 959.6,2254.3 960.1,2252.3 960.5,2250.3 961.0,2248.3 961.4,2246.4 961.9,2244.4 962.3,2242.4 962.7,2240.4 963.2,2238.5 963.6,2236.5 964.1,2234.5 964.5,2232.6 964.9,2230.6 965.4,2228.6 965.8,2226.7 966.2,2224.7 966.7,2222.8 967.1,2220.8 967.5,2218.9 968.0,2216.9 968.4,2215.0 968.9,2213.0 969.3,2211.1 969.7,2209.1 970.2,2207.2 970.6,2205.2 971.0,2203.3 971.5,2201.4 971.9,2199.4 972.3,2197.5 972.8,2195.5 973.2,2193.6 973.7,2191.7 974.1,2189.7 974.6,2187.8 975.0,2185.9 975.4,2184.0 975.9,2182.0 976.3,2180.1 976.8,2178.2 977.2,2176.2 977.7,2174.3 978.2,2172.4 978.6,2170.5 979.1,2168.6 979.5,2166.6 980.0,2164.7 980.5,2162.8 980.9,2160.9 981.4,2159.0 981.9,2157.0 982.3,2155.1 982.8,2153.2 983.3,2151.3 983.8,2149.4 984.3,2147.5 984.8,2145.5 985.3,2143.6 985.8,2141.7 986.3,2139.8 986.8,2137.9 987.3,2136.0 987.8,2134.1 988.3,2132.1 988.8,2130.2 989.3,2128.3 989.8,2126.4 990.4,2124.5 990.9,2122.6 991.4,2120.7 992.0,2118.8 992.5,2116.8 993.1,2114.9 993.6,2113.0 994.2,2111.1 994.7,2109.2 995.3,2107.3 995.9,2105.4 996.4,2103.5 997.0,2101.5 997.6,2099.6 998.2,2097.7 998.8,2095.8 999.4,2093.9 1000.0,2092.0 1000.6,2090.1 1001.2,2088.2 1001.8,2086.3 1002.4,2084.4 1003.1,2082.5 1003.7,2080.6 1004.3,2078.6 1005.0,2076.7 1005.6,2074.8 1006.3,2072.9 1006.9,2071.0 1007.6,2069.1 1008.2,2067.2 1008.9,2065.4 1009.6,2063.5 1010.3,2061.6 1011.0,2059.7 1011.7,2057.8 1012.3,2055.9 1013.1,2054.0 1013.8,2052.1 1014.5,2050.2 1015.2,2048.4 1015.9,2046.5 1016.6,2044.6 1017.4,2042.7 1018.1,2040.9 1018.9,2039.0 1019.6,2037.1 1020.4,2035.2 1021.1,2033.4 1021.9,2031.5 1022.7,2029.7 1023.5,2027.8 1024.3,2025.9 1025.0,2024.1 1025.8,2022.2 1026.6,2020.4 1027.5,2018.6 1028.3,2016.7 1029.1,2014.9 1029.9,2013.0 1030.8,2011.2 1031.6,2009.4 1032.4,2007.6 1033.3,2005.7 1034.2,2003.9 1035.0,2002.1 1035.9,2000.3 1036.8,1998.5 1037.7,1996.7 1038.6,1994.9 1039.4,1993.1 1040.4,1991.3 1041.3,1989.5 1042.2,1987.7 1043.1,1985.9 1044.0,1984.2 1045.0,1982.4 1045.9,1980.6 1046.9,1978.8 1047.8,1977.1 1048.8,1975.3 1049.8,1973.6 1050.7,1971.8 1051.7,1970.1 1052.7,1968.3 1053.7,1966.6 1054.7,1964.9 1055.7,1963.1 1056.7,1961.4 1057.8,1959.7 1058.8,1958.0 1059.8,1956.3 1060.9,1954.6 1061.9,1952.9 1063.0,1951.2 1064.1,1949.5 1065.1,1947.8 1066.2,1946.2 1067.3,1944.5 1068.4,1942.8 1069.5,1941.2 1070.6,1939.5 1071.8,1937.9 1072.9,1936.2 1074.0,1934.6 1075.2,1932.9 1076.3,1931.3 1077.5,1929.7 1078.6,1928.1 1079.8,1926.5 1081.0,1924.9 1082.2,1923.3 1083.4,1921.7 1084.6,1920.1 1085.8,1918.5 1087.0,1916.9 1088.2,1915.4 1089.5,1913.8 1090.7,1912.3 1092.0,1910.7 1093.2,1909.2 1094.5,1907.6 1095.7,1906.1 1097.0,1904.6 1098.3,1903.0 1099.6,1901.5 1100.9,1900.0 1102.2,1898.5 1103.5,1897.0 1104.8,1895.5 1106.1,1894.0 1107.5,1892.6 1108.8,1891.1 1110.1,1889.6 1111.5,1888.2 1112.8,1886.7 1114.2,1885.2 1115.6,1883.8 1116.9,1882.4 1118.3,1880.9 1119.7,1879.5 1121.1,1878.1 1122.5,1876.7 1123.9,1875.3 1125.3,1873.8 1126.7,1872.4 1128.2,1871.1 1129.6,1869.7 1131.0,1868.3 1132.5,1866.9 1133.9,1865.5 1135.3,1864.2 1136.8,1862.8 1138.3,1861.5 1139.7,1860.1 1141.2,1858.8 1142.7,1857.4 1144.2,1856.1 1145.7,1854.8 1147.1,1853.5 1148.6,1852.1 1150.2,1850.8 1151.7,1849.5 1153.2,1848.2 1154.7,1846.9 1156.2,1845.7 1157.7,1844.4 1159.3,1843.1 1160.8,1841.8 1162.4,1840.6 1163.9,1839.3 1165.5,1838.1 1167.0,1836.8 1168.6,1835.6 1170.1,1834.3 1171.7,1833.1 1173.3,1831.9 1174.9,1830.7 1176.5,1829.4 1178.0,1828.2 1179.6,1827.0 1181.2,1825.8 1182.8,1824.6 1184.4,1823.5 1186.0,1822.3 1187.6,1821.1 1189.3,1819.9 1190.9,1818.8 1192.5,1817.6 1194.1,1816.5 1195.8,1815.3 1197.4,1814.2 1199.0,1813.0 1200.7,1811.9 1202.3,1810.8 1204.0,1809.7 1205.6,1808.5 1207.3,1807.4 1208.9,1806.3 1210.6,1805.2 1212.3,1804.1 1213.9,1803.0 1215.6,1802.0 1217.3,1800.9 1219.0,1799.8 1220.6,1798.7 1222.3,1797.7 1224.0,1796.6 1225.7,1795.6 1227.4,1794.5 1229.1,1793.5 1230.8,1792.4 1232.5,1791.4 1234.2,1790.4 1235.9,1789.4 1237.6,1788.3 1239.3,1787.3 1241.1,1786.3 1242.8,1785.3 1244.5,1784.3 1246.2,1783.3 1248.0,1782.3 1249.7,1781.3 1251.4,1780.3 1253.2,1779.4 1254.9,1778.4 1256.6,1777.4 1258.4,1776.5 1260.1,1775.5 1261.9,1774.5 1263.6,1773.6 1265.4,1772.6 1267.1,1771.7 1268.9,1770.7 1270.7,1769.8 1272.4,1768.9 1274.2,1767.9 1276.0,1767.0 1277.7,1766.1 1279.5,1765.2 1281.3,1764.3 1283.1,1763.3 1284.8,1762.4 1286.6,1761.5 1288.4,1760.6 1290.2,1759.7 1292.0,1758.8 1293.8,1758.0 1295.6,1757.1 1297.4,1756.2 1299.2,1755.3 1301.0,1754.4 1302.8,1753.5 1304.6,1752.7 1306.4,1751.8 1308.2,1750.9 1310.0,1750.1 1311.8,1749.2 1313.6,1748.4 1315.4,1747.5 1317.2,1746.7 1319.0,1745.8 1320.9,1745.0 1322.7,1744.1 1324.5,1743.3 1326.3,1742.5 1328.1,1741.6 1330.0,1740.8 1331.8,1740.0 1333.6,1739.1 1335.5,1738.3 1337.3,1737.5 1339.1,1736.7 1341.0,1735.9 1342.8,1735.1 1344.6,1734.2 1346.5,1733.4 1348.3,1732.6 1350.1,1731.8 1352.0,1731.0 1353.8,1730.2 1355.7,1729.4 1357.5,1728.6 1359.4,1727.8 1361.2,1727.1 1363.1,1726.3 1364.9,1725.5 1366.8,1724.7 1368.6,1723.9 1370.5,1723.1 1372.3,1722.3 1374.2,1721.6 1376.0,1720.8 1377.9,1720.0 1379.7,1719.2 1381.6,1718.5 1383.4,1717.7 1385.3,1716.9 1387.1,1716.2 1389.0,1715.4 1390.9,1714.6 1392.7,1713.9 1394.6,1713.1 1396.4,1712.3 1398.3,1711.6 1400.2,1710.8 1402.0,1710.1 1403.9,1709.3 1405.8,1708.6 1407.6,1707.8 1409.5,1707.1 1411.3,1706.3 1413.2,1705.5 1415.1,1704.8 1416.9,1704.0 1418.8,1703.3 1420.7,1702.5 1422.5,1701.8 1424.4,1701.1 1426.3,1700.3 1428.1,1699.6 1430.0,1698.8 1431.8,1698.1 1433.7,1697.3 1435.6,1696.6 1437.4,1695.8 1439.3,1695.1 1441.2,1694.4 1443.0,1693.6 1444.9,1692.9 1446.8,1692.1 1448.6,1691.4 1450.5,1690.6 1452.3,1689.9 1454.2,1689.2 1456.1,1688.4 1457.9,1687.7 1459.8,1686.9 1461.7,1686.2 1463.5,1685.5 1465.4,1684.7 1467.2,1684.0 1469.1,1683.2 1470.9,1682.5 1472.8,1681.7 1474.7,1681.0 1476.5,1680.3 1478.4,1679.5 1480.2,1678.8 1482.1,1678.0 1483.9,1677.3 1485.8,1676.5 1487.6,1675.8 1489.5,1675.0 1491.3,1674.3 1493.2,1673.5 1495.0,1672.8 1496.9,1672.0 1498.7,1671.3 1500.6,1670.5 1502.4,1669.8 1504.2,1669.0 1506.1,1668.3 1507.9,1667.5 1509.8,1666.7 1511.6,1666.0 1513.4,1665.2 1515.3,1664.5 1517.1,1663.7 1518.9,1662.9 1520.8,1662.2 1522.6,1661.4 1524.4,1660.6 1526.2,1659.9 1528.1,1659.1 1529.9,1658.3 1531.7,1657.5 1533.5,1656.8 1535.4,1656.0 1537.2,1655.2 1539.0,1654.4 1540.8,1653.7 1542.6,1652.9 1544.4,1652.1 1546.2,1651.3 1548.0,1650.5 1549.8,1649.7 1551.6,1648.9 1553.4,1648.1" stroke="#ff00ff"/>
<path d="M735.9,1496.4H873.8" stroke="#00b050" stroke-dasharray="43.5 20.5 12.3 20.5"/>
<path d="M735.9,1580H873.8" stroke="#000000" stroke-dasharray="22.5 10.5"/>
<path d="M735.9,1655.8H873.8" stroke="#ff00ff"/>
</g>
<rect x="270.5" y="1430.7" width="1284.3" height="1018.9" fill="none" stroke="#000" stroke-width="4.5"/>
<text transform="translate(227.47,1451.85) scale(0.9985,1)" font-size="63.80">0</text>
<text transform="translate(209.75,1656.23) scale(0.9506,1)" font-size="63.80">-5</text>
<text transform="translate(184.23,1859.60) scale(0.9608,1)" font-size="63.80">-10</text>
<text transform="translate(184.32,2062.85) scale(0.9229,1)" font-size="63.80">-15</text>
<text transform="translate(184.23,2266.65) scale(0.9608,1)" font-size="63.80">-20</text>
<text transform="translate(184.49,2469.91) scale(0.9341,1)" font-size="63.80">-25</text>
<text transform="translate(231.28,2517.31) scale(0.9483,1)" font-size="63.80">1.85</text>
<text transform="translate(390.24,2517.31) scale(0.9858,1)" font-size="63.80">2.10</text>
<text transform="translate(550.12,2517.22) scale(0.9553,1)" font-size="63.80">2.15</text>
<text transform="translate(712.28,2517.31) scale(0.9698,1)" font-size="63.80">2.30</text>
<text transform="translate(872.02,2517.22) scale(0.9553,1)" font-size="63.80">2.45</text>
<text transform="translate(1033.48,2517.31) scale(0.9698,1)" font-size="63.80">2.60</text>
<text transform="translate(1192.58,2517.22) scale(0.9703,1)" font-size="63.80">2.75</text>
<text transform="translate(1353.94,2517.31) scale(0.9858,1)" font-size="63.80">2.90</text>
<text transform="translate(1515.28,2517.31) scale(0.9566,1)" font-size="63.80">3.05</text>
<text transform="translate(698.21,2583.10) scale(0.9981,1)" font-size="62.11">Frequency (GHz)</text>
<text transform="translate(878.55,2665.21) scale(1.0708,1)" font-size="60.55">(b)</text>
<text transform="translate(917.01,1516.92) scale(0.9519,1)" font-size="64.20">Step-1</text>
<text transform="translate(916.95,1598.12) scale(0.9657,1)" font-size="64.20">Step-2</text>
<text transform="translate(917.01,1674.82) scale(0.9520,1)" font-size="64.20">Step-3</text>
<text transform="translate(153,2076.2) rotate(-90)" font-size="62">|S<tspan font-size="41.4" dy="9.9">11</tspan><tspan dy="-9.9">| (dB)</tspan></text>
</svg></body></html>
